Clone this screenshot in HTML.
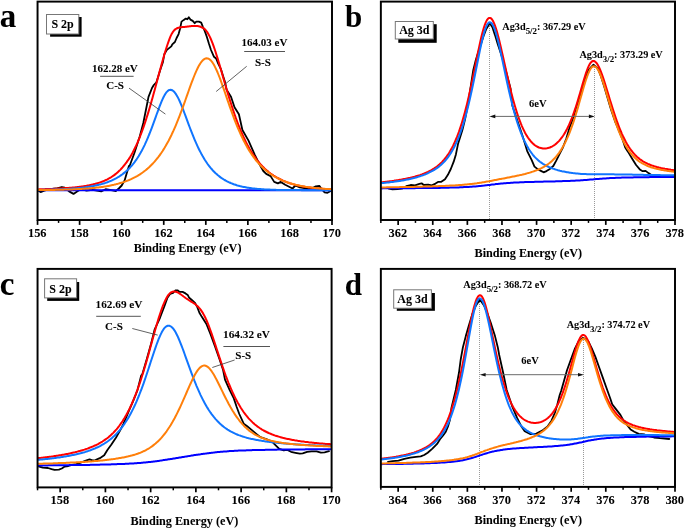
<!DOCTYPE html>
<html><head><meta charset="utf-8"><style>
html,body{margin:0;padding:0;background:#fff;}
svg{display:block;will-change:transform;}
text{stroke:#000;stroke-width:0.05px;}
</style></head><body>
<svg width="685" height="528" viewBox="0 0 685 528" font-family="&quot;Liberation Serif&quot;, serif" font-weight="bold">
<path d="M38.5,190.7 L40.6,192.1 L44.3,190.7 L50.1,189.2 L56.0,188.5 L61.8,187.0 L64.7,187.7 L69.1,191.4 L73.5,193.9 L77.1,191.4 L80.8,189.2 L86.6,190.7 L92.5,189.9 L96.9,190.7 L101.2,191.4 L105.6,189.2 L110.0,189.9 L115.8,191.0 L118.8,188.5 L121.7,185.5 L124.6,180.4 L126.8,173.1 L129.0,165.8 L129.3,166.8 L134.5,152.8 L139.8,136.2 L143.3,123.0 L146.8,105.5 L148.5,96.8 L152.0,88.0 L153.8,85.0 L156.4,82.3 L160.8,68.3 L162.9,62.2 L164.3,54.3 L166.9,49.9 L171.3,46.4 L172.3,44.3 L174.9,42.0 L176.6,38.0 L178.6,34.1 L180.2,28.2 L181.5,21.6 L183.8,19.9 L185.8,18.6 L187.4,19.3 L188.8,17.3 L190.4,19.6 L192.7,20.9 L194.7,23.2 L196.3,21.6 L198.9,21.6 L201.2,22.6 L202.9,26.8 L204.9,31.4 L206.8,36.7 L208.8,43.3 L211.0,50.0 L214.0,56.8 L216.1,58.5 L218.2,63.6 L220.8,68.8 L222.9,75.6 L225.1,82.4 L226.6,89.8 L231.0,96.8 L234.5,107.3 L238.9,114.3 L242.4,130.0 L248.5,140.6 L254.7,154.6 L259.9,165.1 L263.3,171.0 L266.2,173.9 L270.6,176.1 L274.2,181.9 L277.9,183.4 L280.8,181.9 L285.2,184.8 L289.6,187.0 L292.5,188.5 L295.4,185.5 L299.8,187.4 L304.2,188.0 L308.5,188.9 L312.9,187.7 L315.8,186.3 L319.5,186.0 L321.7,189.2 L324.6,192.4 L327.5,192.8 L331.2,190.7" fill="none" stroke="#000" stroke-width="1.8" stroke-linejoin="round" stroke-linecap="round"/>
<path d="M38.5,190.2 L39.5,190.2 L40.5,190.2 L41.5,190.2 L42.5,190.2 L43.5,190.2 L44.5,190.2 L45.5,190.2 L46.5,190.2 L47.5,190.2 L48.5,190.2 L49.5,190.2 L50.5,190.2 L51.5,190.2 L52.5,190.2 L53.5,190.2 L54.5,190.2 L55.5,190.2 L56.5,190.2 L57.5,190.2 L58.5,190.2 L59.5,190.2 L60.5,190.2 L61.5,190.2 L62.5,190.2 L63.5,190.2 L64.5,190.2 L65.5,190.2 L66.5,190.2 L67.5,190.2 L68.5,190.2 L69.5,190.2 L70.5,190.2 L71.5,190.2 L72.5,190.2 L73.5,190.2 L74.5,190.2 L75.5,190.2 L76.5,190.2 L77.5,190.2 L78.5,190.2 L79.5,190.2 L80.5,190.2 L81.5,190.2 L82.5,190.2 L83.5,190.2 L84.5,190.2 L85.5,190.2 L86.5,190.2 L87.5,190.2 L88.5,190.2 L89.5,190.2 L90.5,190.2 L91.5,190.2 L92.5,190.2 L93.5,190.2 L94.5,190.2 L95.5,190.2 L96.5,190.2 L97.5,190.2 L98.5,190.2 L99.5,190.2 L100.5,190.2 L101.5,190.2 L102.5,190.2 L103.5,190.2 L104.5,190.2 L105.5,190.2 L106.5,190.2 L107.5,190.2 L108.5,190.2 L109.5,190.2 L110.5,190.2 L111.5,190.2 L112.5,190.2 L113.5,190.2 L114.5,190.2 L115.5,190.2 L116.5,190.2 L117.5,190.2 L118.5,190.2 L119.5,190.2 L120.5,190.2 L121.5,190.2 L122.5,190.2 L123.5,190.2 L124.5,190.2 L125.5,190.2 L126.5,190.2 L127.5,190.2 L128.6,190.2 L129.6,190.2 L130.6,190.2 L131.6,190.2 L132.6,190.2 L133.6,190.2 L134.6,190.2 L135.6,190.2 L136.6,190.2 L137.6,190.2 L138.6,190.2 L139.6,190.2 L140.6,190.2 L141.6,190.2 L142.6,190.2 L143.6,190.2 L144.6,190.2 L145.6,190.2 L146.6,190.2 L147.6,190.2 L148.6,190.2 L149.6,190.2 L150.6,190.2 L151.6,190.2 L152.6,190.2 L153.6,190.2 L154.6,190.2 L155.6,190.2 L156.6,190.2 L157.6,190.2 L158.6,190.2 L159.6,190.2 L160.6,190.2 L161.6,190.2 L162.6,190.2 L163.6,190.2 L164.6,190.2 L165.6,190.2 L166.6,190.2 L167.6,190.2 L168.6,190.2 L169.6,190.2 L170.6,190.2 L171.6,190.2 L172.6,190.2 L173.6,190.2 L174.6,190.2 L175.6,190.2 L176.6,190.2 L177.6,190.2 L178.6,190.2 L179.6,190.2 L180.6,190.2 L181.6,190.2 L182.6,190.2 L183.6,190.2 L184.6,190.2 L185.6,190.2 L186.6,190.2 L187.6,190.2 L188.6,190.2 L189.6,190.2 L190.6,190.2 L191.6,190.2 L192.6,190.2 L193.6,190.2 L194.6,190.2 L195.6,190.2 L196.6,190.2 L197.6,190.2 L198.6,190.2 L199.6,190.2 L200.6,190.2 L201.6,190.2 L202.6,190.2 L203.6,190.2 L204.6,190.2 L205.6,190.2 L206.6,190.2 L207.6,190.2 L208.6,190.2 L209.6,190.2 L210.6,190.2 L211.6,190.2 L212.6,190.2 L213.6,190.2 L214.6,190.2 L215.6,190.2 L216.6,190.2 L217.6,190.2 L218.6,190.2 L219.6,190.2 L220.6,190.2 L221.6,190.2 L222.6,190.2 L223.6,190.2 L224.6,190.2 L225.6,190.2 L226.6,190.2 L227.6,190.2 L228.6,190.2 L229.6,190.2 L230.6,190.2 L231.6,190.2 L232.6,190.2 L233.6,190.2 L234.6,190.2 L235.6,190.2 L236.6,190.2 L237.6,190.2 L238.6,190.2 L239.6,190.2 L240.6,190.2 L241.6,190.2 L242.6,190.2 L243.6,190.2 L244.6,190.2 L245.6,190.2 L246.6,190.2 L247.6,190.2 L248.6,190.2 L249.6,190.2 L250.6,190.2 L251.6,190.2 L252.6,190.2 L253.6,190.2 L254.6,190.2 L255.6,190.2 L256.6,190.2 L257.6,190.2 L258.6,190.2 L259.6,190.2 L260.6,190.2 L261.6,190.2 L262.6,190.2 L263.6,190.2 L264.6,190.2 L265.6,190.2 L266.6,190.2 L267.6,190.2 L268.6,190.2 L269.6,190.2 L270.6,190.2 L271.6,190.2 L272.6,190.2 L273.6,190.2 L274.6,190.2 L275.6,190.2 L276.6,190.2 L277.6,190.2 L278.6,190.2 L279.6,190.2 L280.6,190.2 L281.6,190.2 L282.6,190.2 L283.6,190.2 L284.6,190.2 L285.6,190.2 L286.6,190.2 L287.6,190.2 L288.6,190.2 L289.6,190.2 L290.6,190.2 L291.6,190.2 L292.6,190.2 L293.6,190.2 L294.6,190.2 L295.6,190.2 L296.6,190.2 L297.6,190.2 L298.6,190.2 L299.6,190.2 L300.6,190.2 L301.6,190.2 L302.6,190.2 L303.6,190.2 L304.6,190.2 L305.6,190.2 L306.6,190.2 L307.6,190.2 L308.6,190.2 L309.6,190.2 L310.6,190.2 L311.6,190.2 L312.6,190.2 L313.6,190.2 L314.6,190.2 L315.6,190.2 L316.6,190.2 L317.6,190.2 L318.6,190.2 L319.6,190.2 L320.6,190.2 L321.6,190.2 L322.6,190.2 L323.6,190.2 L324.6,190.2 L325.6,190.2 L326.6,190.2 L327.6,190.2 L328.6,190.2 L329.6,190.2 L330.6,190.2" fill="none" stroke="#0000ff" stroke-width="2.0" stroke-linejoin="round" stroke-linecap="round"/>
<path d="M38.5,189.4 L39.5,189.3 L40.5,189.3 L41.5,189.3 L42.5,189.3 L43.5,189.2 L44.5,189.2 L45.5,189.1 L46.5,189.1 L47.5,189.1 L48.5,189.0 L49.5,189.0 L50.5,189.0 L51.5,188.9 L52.5,188.9 L53.5,188.8 L54.5,188.8 L55.5,188.7 L56.5,188.7 L57.5,188.6 L58.5,188.6 L59.5,188.5 L60.5,188.5 L61.5,188.4 L62.5,188.3 L63.5,188.3 L64.5,188.2 L65.5,188.1 L66.5,188.1 L67.5,188.0 L68.5,187.9 L69.5,187.8 L70.5,187.7 L71.5,187.7 L72.5,187.6 L73.5,187.5 L74.5,187.4 L75.5,187.3 L76.5,187.2 L77.5,187.0 L78.5,186.9 L79.5,186.8 L80.5,186.7 L81.5,186.5 L82.5,186.4 L83.5,186.2 L84.5,186.1 L85.5,185.9 L86.5,185.8 L87.5,185.6 L88.5,185.4 L89.5,185.2 L90.5,185.0 L91.5,184.8 L92.5,184.6 L93.5,184.3 L94.5,184.1 L95.5,183.8 L96.5,183.5 L97.5,183.2 L98.5,182.9 L99.5,182.6 L100.5,182.3 L101.5,181.9 L102.5,181.5 L103.5,181.1 L104.5,180.7 L105.5,180.2 L106.5,179.8 L107.5,179.3 L108.5,178.7 L109.5,178.2 L110.5,177.6 L111.5,177.0 L112.5,176.3 L113.5,175.6 L114.5,174.9 L115.5,174.1 L116.5,173.3 L117.5,172.4 L118.5,171.5 L119.5,170.6 L120.5,169.6 L121.5,168.5 L122.5,167.4 L123.5,166.2 L124.5,165.0 L125.5,163.7 L126.5,162.4 L127.5,160.9 L128.6,159.4 L129.6,157.9 L130.6,156.2 L131.6,154.5 L132.6,152.7 L133.6,150.8 L134.6,148.8 L135.6,146.8 L136.6,144.6 L137.6,142.4 L138.6,140.0 L139.6,137.6 L140.6,135.0 L141.6,132.4 L142.6,129.7 L143.6,126.9 L144.6,124.0 L145.6,120.9 L146.6,117.8 L147.6,114.6 L148.6,111.4 L149.6,108.0 L150.6,104.6 L151.6,101.0 L152.6,97.5 L153.6,93.8 L154.6,90.2 L155.6,86.5 L156.6,82.7 L157.6,79.0 L158.6,75.3 L159.6,71.5 L160.6,67.9 L161.6,64.2 L162.6,60.7 L163.6,57.2 L164.6,53.8 L165.6,50.5 L166.6,47.3 L167.6,44.2 L168.6,41.3 L169.6,38.6 L170.6,36.1 L171.6,34.1 L172.6,32.4 L173.6,31.0 L174.6,29.9 L175.6,29.1 L176.6,28.5 L177.6,28.0 L178.6,27.7 L179.6,27.5 L180.6,27.3 L181.6,27.2 L182.6,27.1 L183.6,27.0 L184.6,26.9 L185.6,26.8 L186.6,26.7 L187.6,26.5 L188.6,26.4 L189.6,26.3 L190.6,26.2 L191.6,26.1 L192.6,26.0 L193.6,25.9 L194.6,25.9 L195.6,25.9 L196.6,26.0 L197.6,26.1 L198.6,26.3 L199.6,26.5 L200.6,26.8 L201.6,27.3 L202.6,27.7 L203.6,28.3 L204.6,29.1 L205.6,30.0 L206.6,31.3 L207.6,32.7 L208.6,34.5 L209.6,36.4 L210.6,38.5 L211.6,40.9 L212.6,43.4 L213.6,46.2 L214.6,49.0 L215.6,52.0 L216.6,55.2 L217.6,58.4 L218.6,61.7 L219.6,65.1 L220.6,68.5 L221.6,71.9 L222.6,75.4 L223.6,78.9 L224.6,82.4 L225.6,85.8 L226.6,89.2 L227.6,92.6 L228.6,95.9 L229.6,99.2 L230.6,102.4 L231.6,105.5 L232.6,108.6 L233.6,111.6 L234.6,114.5 L235.6,117.4 L236.6,120.1 L237.6,122.8 L238.6,125.4 L239.6,127.9 L240.6,130.4 L241.6,132.7 L242.6,135.0 L243.6,137.2 L244.6,139.3 L245.6,141.4 L246.6,143.4 L247.6,145.3 L248.6,147.1 L249.6,148.9 L250.6,150.6 L251.6,152.2 L252.6,153.8 L253.6,155.3 L254.6,156.7 L255.6,158.1 L256.6,159.5 L257.6,160.8 L258.6,162.0 L259.6,163.2 L260.6,164.3 L261.6,165.4 L262.6,166.5 L263.6,167.5 L264.6,168.5 L265.6,169.4 L266.6,170.3 L267.6,171.1 L268.6,172.0 L269.6,172.7 L270.6,173.5 L271.6,174.2 L272.6,174.9 L273.6,175.6 L274.6,176.2 L275.6,176.8 L276.6,177.4 L277.6,178.0 L278.6,178.5 L279.6,179.0 L280.6,179.5 L281.6,180.0 L282.6,180.5 L283.6,180.9 L284.6,181.3 L285.6,181.7 L286.6,182.1 L287.6,182.5 L288.6,182.8 L289.6,183.2 L290.6,183.5 L291.6,183.8 L292.6,184.1 L293.6,184.4 L294.6,184.6 L295.6,184.9 L296.6,185.1 L297.6,185.4 L298.6,185.6 L299.6,185.8 L300.6,186.0 L301.6,186.2 L302.6,186.4 L303.6,186.6 L304.6,186.8 L305.6,186.9 L306.6,187.1 L307.6,187.2 L308.6,187.4 L309.6,187.5 L310.6,187.6 L311.6,187.8 L312.6,187.9 L313.6,188.0 L314.6,188.1 L315.6,188.2 L316.6,188.3 L317.6,188.4 L318.6,188.5 L319.6,188.6 L320.6,188.7 L321.6,188.7 L322.6,188.8 L323.6,188.9 L324.6,189.0 L325.6,189.0 L326.6,189.1 L327.6,189.1 L328.6,189.2 L329.6,189.2 L330.6,189.3" fill="none" stroke="#ff0000" stroke-width="2.0" stroke-linejoin="round" stroke-linecap="round"/>
<path d="M38.5,189.9 L39.5,189.9 L40.5,189.9 L41.5,189.9 L42.5,189.8 L43.5,189.8 L44.5,189.8 L45.5,189.8 L46.5,189.8 L47.5,189.7 L48.5,189.7 L49.5,189.7 L50.5,189.7 L51.5,189.6 L52.5,189.6 L53.5,189.6 L54.5,189.5 L55.5,189.5 L56.5,189.5 L57.5,189.4 L58.5,189.4 L59.5,189.4 L60.5,189.3 L61.5,189.3 L62.5,189.2 L63.5,189.2 L64.5,189.1 L65.5,189.1 L66.5,189.0 L67.5,188.9 L68.5,188.9 L69.5,188.8 L70.5,188.8 L71.5,188.7 L72.5,188.6 L73.5,188.5 L74.5,188.5 L75.5,188.4 L76.5,188.3 L77.5,188.2 L78.5,188.1 L79.5,188.0 L80.5,187.9 L81.5,187.8 L82.5,187.7 L83.5,187.5 L84.5,187.4 L85.5,187.3 L86.5,187.1 L87.5,187.0 L88.5,186.8 L89.5,186.7 L90.5,186.5 L91.5,186.3 L92.5,186.2 L93.5,186.0 L94.5,185.8 L95.5,185.6 L96.5,185.3 L97.5,185.1 L98.5,184.9 L99.5,184.6 L100.5,184.4 L101.5,184.1 L102.5,183.8 L103.5,183.5 L104.5,183.2 L105.5,182.9 L106.5,182.5 L107.5,182.2 L108.5,181.8 L109.5,181.4 L110.5,181.0 L111.5,180.6 L112.5,180.1 L113.5,179.6 L114.5,179.1 L115.5,178.6 L116.5,178.1 L117.5,177.5 L118.5,176.9 L119.5,176.3 L120.5,175.6 L121.5,174.9 L122.5,174.2 L123.5,173.4 L124.5,172.6 L125.5,171.8 L126.5,170.9 L127.5,170.0 L128.6,169.0 L129.6,168.0 L130.6,166.9 L131.6,165.8 L132.6,164.6 L133.6,163.4 L134.6,162.1 L135.6,160.7 L136.6,159.3 L137.6,157.8 L138.6,156.2 L139.6,154.5 L140.6,152.8 L141.6,151.0 L142.6,149.1 L143.6,147.1 L144.6,145.1 L145.6,142.9 L146.6,140.7 L147.6,138.3 L148.6,135.9 L149.6,133.5 L150.6,130.9 L151.6,128.3 L152.6,125.6 L153.6,122.9 L154.6,120.1 L155.6,117.3 L156.6,114.5 L157.6,111.8 L158.6,109.1 L159.6,106.4 L160.6,103.8 L161.6,101.4 L162.6,99.1 L163.6,97.0 L164.6,95.1 L165.6,93.5 L166.6,92.1 L167.6,91.1 L168.6,90.3 L169.6,89.9 L170.6,89.8 L171.6,90.0 L172.6,90.5 L173.6,91.3 L174.6,92.3 L175.6,93.6 L176.6,95.2 L177.6,96.9 L178.6,98.9 L179.6,101.0 L180.6,103.3 L181.6,105.7 L182.6,108.2 L183.6,110.8 L184.6,113.5 L185.6,116.2 L186.6,118.9 L187.6,121.6 L188.6,124.3 L189.6,127.0 L190.6,129.6 L191.6,132.2 L192.6,134.7 L193.6,137.2 L194.6,139.6 L195.6,141.9 L196.6,144.2 L197.6,146.4 L198.6,148.5 L199.6,150.5 L200.6,152.4 L201.6,154.3 L202.6,156.1 L203.6,157.8 L204.6,159.5 L205.6,161.0 L206.6,162.5 L207.6,164.0 L208.6,165.3 L209.6,166.6 L210.6,167.9 L211.6,169.0 L212.6,170.2 L213.6,171.2 L214.6,172.2 L215.6,173.2 L216.6,174.1 L217.6,175.0 L218.6,175.8 L219.6,176.6 L220.6,177.4 L221.6,178.1 L222.6,178.7 L223.6,179.4 L224.6,180.0 L225.6,180.5 L226.6,181.1 L227.6,181.6 L228.6,182.1 L229.6,182.5 L230.6,183.0 L231.6,183.4 L232.6,183.8 L233.6,184.2 L234.6,184.5 L235.6,184.8 L236.6,185.2 L237.6,185.5 L238.6,185.7 L239.6,186.0 L240.6,186.2 L241.6,186.5 L242.6,186.7 L243.6,186.9 L244.6,187.1 L245.6,187.3 L246.6,187.5 L247.6,187.7 L248.6,187.8 L249.6,188.0 L250.6,188.1 L251.6,188.2 L252.6,188.4 L253.6,188.5 L254.6,188.6 L255.6,188.7 L256.6,188.8 L257.6,188.9 L258.6,189.0 L259.6,189.0 L260.6,189.1 L261.6,189.2 L262.6,189.3 L263.6,189.3 L264.6,189.4 L265.6,189.4 L266.6,189.5 L267.6,189.5 L268.6,189.6 L269.6,189.6 L270.6,189.7 L271.6,189.7 L272.6,189.7 L273.6,189.8 L274.6,189.8 L275.6,189.8 L276.6,189.9 L277.6,189.9 L278.6,189.9 L279.6,189.9 L280.6,189.9 L281.6,190.0 L282.6,190.0 L283.6,190.0 L284.6,190.0 L285.6,190.0 L286.6,190.0 L287.6,190.0 L288.6,190.1 L289.6,190.1 L290.6,190.1 L291.6,190.1 L292.6,190.1 L293.6,190.1 L294.6,190.1 L295.6,190.1 L296.6,190.1 L297.6,190.1 L298.6,190.1 L299.6,190.1 L300.6,190.1 L301.6,190.2 L302.6,190.2 L303.6,190.2 L304.6,190.2 L305.6,190.2 L306.6,190.2 L307.6,190.2 L308.6,190.2 L309.6,190.2 L310.6,190.2 L311.6,190.2 L312.6,190.2 L313.6,190.2 L314.6,190.2 L315.6,190.2 L316.6,190.2 L317.6,190.2 L318.6,190.2 L319.6,190.2 L320.6,190.2 L321.6,190.2 L322.6,190.2 L323.6,190.2 L324.6,190.2 L325.6,190.2 L326.6,190.2 L327.6,190.2 L328.6,190.2 L329.6,190.2 L330.6,190.2" fill="none" stroke="#1075ff" stroke-width="2.0" stroke-linejoin="round" stroke-linecap="round"/>
<path d="M38.5,190.1 L39.5,190.0 L40.5,190.0 L41.5,190.0 L42.5,190.0 L43.5,190.0 L44.5,190.0 L45.5,190.0 L46.5,190.0 L47.5,190.0 L48.5,189.9 L49.5,189.9 L50.5,189.9 L51.5,189.9 L52.5,189.9 L53.5,189.9 L54.5,189.9 L55.5,189.8 L56.5,189.8 L57.5,189.8 L58.5,189.8 L59.5,189.8 L60.5,189.7 L61.5,189.7 L62.5,189.7 L63.5,189.7 L64.5,189.6 L65.5,189.6 L66.5,189.6 L67.5,189.5 L68.5,189.5 L69.5,189.5 L70.5,189.4 L71.5,189.4 L72.5,189.4 L73.5,189.3 L74.5,189.3 L75.5,189.2 L76.5,189.2 L77.5,189.1 L78.5,189.1 L79.5,189.0 L80.5,189.0 L81.5,188.9 L82.5,188.8 L83.5,188.8 L84.5,188.7 L85.5,188.6 L86.5,188.6 L87.5,188.5 L88.5,188.4 L89.5,188.3 L90.5,188.2 L91.5,188.2 L92.5,188.1 L93.5,188.0 L94.5,187.9 L95.5,187.8 L96.5,187.6 L97.5,187.5 L98.5,187.4 L99.5,187.3 L100.5,187.2 L101.5,187.0 L102.5,186.9 L103.5,186.7 L104.5,186.6 L105.5,186.4 L106.5,186.2 L107.5,186.1 L108.5,185.9 L109.5,185.7 L110.5,185.5 L111.5,185.3 L112.5,185.1 L113.5,184.9 L114.5,184.6 L115.5,184.4 L116.5,184.1 L117.5,183.9 L118.5,183.6 L119.5,183.3 L120.5,183.0 L121.5,182.7 L122.5,182.4 L123.5,182.1 L124.5,181.7 L125.5,181.4 L126.5,181.0 L127.5,180.6 L128.6,180.2 L129.6,179.8 L130.6,179.4 L131.6,178.9 L132.6,178.4 L133.6,177.9 L134.6,177.4 L135.6,176.9 L136.6,176.3 L137.6,175.8 L138.6,175.2 L139.6,174.6 L140.6,173.9 L141.6,173.2 L142.6,172.5 L143.6,171.8 L144.6,171.0 L145.6,170.3 L146.6,169.4 L147.6,168.6 L148.6,167.7 L149.6,166.8 L150.6,165.8 L151.6,164.8 L152.6,163.8 L153.6,162.7 L154.6,161.6 L155.6,160.4 L156.6,159.2 L157.6,158.0 L158.6,156.7 L159.6,155.3 L160.6,153.9 L161.6,152.5 L162.6,151.0 L163.6,149.4 L164.6,147.8 L165.6,146.1 L166.6,144.3 L167.6,142.5 L168.6,140.7 L169.6,138.7 L170.6,136.7 L171.6,134.7 L172.6,132.5 L173.6,130.4 L174.6,128.1 L175.6,125.8 L176.6,123.4 L177.6,120.9 L178.6,118.4 L179.6,115.8 L180.6,113.2 L181.6,110.5 L182.6,107.8 L183.6,105.1 L184.6,102.3 L185.6,99.5 L186.6,96.7 L187.6,93.8 L188.6,91.0 L189.6,88.2 L190.6,85.4 L191.6,82.7 L192.6,80.1 L193.6,77.5 L194.6,75.0 L195.6,72.6 L196.6,70.4 L197.6,68.3 L198.6,66.3 L199.6,64.6 L200.6,63.0 L201.6,61.6 L202.6,60.5 L203.6,59.6 L204.6,58.9 L205.6,58.5 L206.6,58.3 L207.6,58.4 L208.6,58.7 L209.6,59.4 L210.6,60.2 L211.6,61.4 L212.6,62.7 L213.6,64.3 L214.6,66.1 L215.6,68.1 L216.6,70.2 L217.6,72.5 L218.6,75.0 L219.6,77.5 L220.6,80.2 L221.6,83.0 L222.6,85.8 L223.6,88.6 L224.6,91.5 L225.6,94.5 L226.6,97.4 L227.6,100.3 L228.6,103.2 L229.6,106.1 L230.6,108.9 L231.6,111.7 L232.6,114.4 L233.6,117.1 L234.6,119.8 L235.6,122.3 L236.6,124.8 L237.6,127.3 L238.6,129.6 L239.6,131.9 L240.6,134.2 L241.6,136.3 L242.6,138.4 L243.6,140.5 L244.6,142.4 L245.6,144.3 L246.6,146.1 L247.6,147.9 L248.6,149.6 L249.6,151.2 L250.6,152.8 L251.6,154.3 L252.6,155.7 L253.6,157.1 L254.6,158.5 L255.6,159.8 L256.6,161.0 L257.6,162.2 L258.6,163.3 L259.6,164.4 L260.6,165.5 L261.6,166.5 L262.6,167.5 L263.6,168.4 L264.6,169.3 L265.6,170.2 L266.6,171.0 L267.6,171.8 L268.6,172.6 L269.6,173.3 L270.6,174.0 L271.6,174.7 L272.6,175.3 L273.6,176.0 L274.6,176.6 L275.6,177.1 L276.6,177.7 L277.6,178.2 L278.6,178.7 L279.6,179.2 L280.6,179.7 L281.6,180.1 L282.6,180.6 L283.6,181.0 L284.6,181.4 L285.6,181.7 L286.6,182.1 L287.6,182.5 L288.6,182.8 L289.6,183.1 L290.6,183.4 L291.6,183.7 L292.6,184.0 L293.6,184.3 L294.6,184.5 L295.6,184.8 L296.6,185.0 L297.6,185.2 L298.6,185.5 L299.6,185.7 L300.6,185.9 L301.6,186.1 L302.6,186.3 L303.6,186.4 L304.6,186.6 L305.6,186.8 L306.6,186.9 L307.6,187.1 L308.6,187.2 L309.6,187.3 L310.6,187.5 L311.6,187.6 L312.6,187.7 L313.6,187.8 L314.6,187.9 L315.6,188.1 L316.6,188.2 L317.6,188.2 L318.6,188.3 L319.6,188.4 L320.6,188.5 L321.6,188.6 L322.6,188.7 L323.6,188.7 L324.6,188.8 L325.6,188.9 L326.6,188.9 L327.6,189.0 L328.6,189.1 L329.6,189.1 L330.6,189.2" fill="none" stroke="#ff7f0a" stroke-width="2.0" stroke-linejoin="round" stroke-linecap="round"/>
<line x1="129" y1="88.1" x2="165.4" y2="114.1" stroke="#3a3a3a" stroke-width="0.8"/>
<line x1="246.7" y1="66.3" x2="216.2" y2="91.5" stroke="#3a3a3a" stroke-width="0.8"/>
<rect x="37.55" y="1.6" width="294.45" height="218.40" fill="none" stroke="#000" stroke-width="1.95"/>
<line x1="37.55" y1="220.0" x2="37.55" y2="224.90" stroke="#000" stroke-width="1.7"/>
<line x1="79.61" y1="220.0" x2="79.61" y2="224.90" stroke="#000" stroke-width="1.7"/>
<line x1="121.68" y1="220.0" x2="121.68" y2="224.90" stroke="#000" stroke-width="1.7"/>
<line x1="163.74" y1="220.0" x2="163.74" y2="224.90" stroke="#000" stroke-width="1.7"/>
<line x1="205.81" y1="220.0" x2="205.81" y2="224.90" stroke="#000" stroke-width="1.7"/>
<line x1="247.87" y1="220.0" x2="247.87" y2="224.90" stroke="#000" stroke-width="1.7"/>
<line x1="289.94" y1="220.0" x2="289.94" y2="224.90" stroke="#000" stroke-width="1.7"/>
<line x1="332.00" y1="220.0" x2="332.00" y2="224.90" stroke="#000" stroke-width="1.7"/>
<line x1="58.58" y1="220.0" x2="58.58" y2="222.90" stroke="#000" stroke-width="1.5"/>
<line x1="100.65" y1="220.0" x2="100.65" y2="222.90" stroke="#000" stroke-width="1.5"/>
<line x1="142.71" y1="220.0" x2="142.71" y2="222.90" stroke="#000" stroke-width="1.5"/>
<line x1="184.77" y1="220.0" x2="184.77" y2="222.90" stroke="#000" stroke-width="1.5"/>
<line x1="226.84" y1="220.0" x2="226.84" y2="222.90" stroke="#000" stroke-width="1.5"/>
<line x1="268.90" y1="220.0" x2="268.90" y2="222.90" stroke="#000" stroke-width="1.5"/>
<line x1="310.97" y1="220.0" x2="310.97" y2="222.90" stroke="#000" stroke-width="1.5"/>
<text x="37.25" y="237.00" font-size="12.4" text-anchor="middle">156</text>
<text x="79.31" y="237.00" font-size="12.4" text-anchor="middle">158</text>
<text x="121.38" y="237.00" font-size="12.4" text-anchor="middle">160</text>
<text x="163.44" y="237.00" font-size="12.4" text-anchor="middle">162</text>
<text x="205.51" y="237.00" font-size="12.4" text-anchor="middle">164</text>
<text x="247.57" y="237.00" font-size="12.4" text-anchor="middle">166</text>
<text x="289.64" y="237.00" font-size="12.4" text-anchor="middle">168</text>
<text x="331.70" y="237.00" font-size="12.4" text-anchor="middle">170</text>
<line x1="489.5" y1="24" x2="489.5" y2="219" stroke="#999" stroke-width="1" stroke-dasharray="1,1"/>
<line x1="594.5" y1="65" x2="594.5" y2="219" stroke="#999" stroke-width="1" stroke-dasharray="1,1"/>
<path d="M388.8,188.7 L392.4,189.4 L397.5,189.1 L401.9,188.7 L406.3,186.2 L410.7,185.0 L415.0,185.3 L419.4,183.9 L421.6,183.3 L423.8,185.0 L428.2,184.7 L431.8,185.3 L435.5,183.6 L438.4,181.8 L441.3,181.8 L445.0,179.2 L447.9,174.8 L450.8,169.0 L453.7,161.7 L455.9,154.4 L458.0,144.1 L462.4,130.0 L465.0,119.5 L467.7,105.5 L469.4,95.0 L473.3,70.0 L475.8,60.0 L478.4,51.8 L481.0,43.9 L483.6,36.0 L486.3,29.0 L489.8,23.3 L492.4,27.3 L495.0,35.1 L497.7,43.9 L500.3,51.8 L502.9,60.0 L503.6,62.6 L507.0,75.0 L510.6,88.8 L512.3,105.5 L517.6,121.3 L522.9,137.0 L527.2,151.1 L531.6,159.8 L534.5,166.6 L538.0,169.4 L541.4,171.1 L543.6,172.3 L546.5,171.1 L549.9,168.9 L553.3,166.0 L556.1,160.9 L559.5,154.1 L563.0,147.3 L566.4,138.2 L569.8,126.8 L572.6,120.0 L576.0,108.0 L579.7,97.0 L582.5,87.5 L585.5,77.5 L588.6,69.9 L593.5,64.6 L597.8,68.1 L601.0,76.5 L604.2,86.5 L607.0,96.0 L611.0,109.5 L615.3,122.0 L619.3,131.5 L622.3,138.8 L625.2,147.5 L628.1,151.9 L632.5,159.2 L636.1,165.0 L639.8,169.4 L642.7,171.2 L645.6,170.9 L648.5,173.1 L650.7,174.5" fill="none" stroke="#000" stroke-width="1.8" stroke-linejoin="round" stroke-linecap="round"/>
<path d="M381.9,188.4 L382.9,188.3 L383.9,188.3 L384.9,188.3 L385.9,188.3 L386.9,188.3 L387.9,188.3 L388.9,188.3 L389.9,188.3 L390.9,188.3 L391.9,188.3 L392.9,188.3 L393.9,188.3 L394.9,188.3 L395.9,188.3 L396.9,188.3 L397.9,188.3 L398.9,188.3 L399.9,188.3 L400.9,188.3 L401.9,188.2 L402.9,188.2 L403.9,188.2 L404.9,188.2 L405.9,188.2 L406.9,188.2 L407.9,188.2 L408.9,188.2 L409.9,188.2 L410.9,188.2 L411.9,188.2 L412.9,188.2 L413.9,188.2 L414.9,188.2 L415.9,188.1 L416.9,188.1 L417.9,188.1 L418.9,188.1 L419.9,188.1 L420.9,188.1 L421.9,188.1 L422.9,188.1 L423.9,188.1 L424.9,188.1 L425.9,188.0 L426.9,188.0 L427.9,188.0 L428.9,188.0 L429.9,188.0 L430.9,188.0 L431.9,188.0 L432.9,188.0 L433.9,187.9 L434.9,187.9 L435.9,187.9 L436.9,187.9 L437.9,187.9 L438.9,187.9 L439.9,187.9 L440.9,187.8 L441.9,187.8 L442.9,187.8 L443.9,187.8 L444.9,187.8 L445.9,187.7 L446.9,187.7 L447.9,187.7 L448.9,187.7 L449.9,187.6 L450.9,187.6 L451.9,187.6 L452.9,187.6 L453.9,187.5 L454.9,187.5 L455.9,187.5 L456.9,187.4 L457.9,187.4 L458.9,187.4 L459.9,187.3 L460.9,187.3 L461.9,187.2 L462.9,187.2 L463.9,187.1 L464.9,187.1 L465.9,187.0 L466.9,187.0 L467.9,186.9 L468.9,186.9 L469.9,186.8 L470.9,186.7 L471.9,186.7 L472.9,186.6 L473.9,186.5 L474.9,186.4 L475.9,186.4 L476.9,186.3 L477.9,186.2 L478.9,186.1 L479.9,186.0 L480.9,185.9 L481.9,185.8 L482.9,185.7 L483.9,185.6 L484.9,185.4 L485.9,185.3 L486.9,185.2 L487.9,185.1 L488.9,185.0 L489.9,184.9 L490.9,184.7 L491.9,184.6 L492.9,184.5 L493.9,184.4 L494.9,184.3 L495.9,184.1 L496.9,184.0 L497.9,183.9 L498.9,183.8 L499.9,183.7 L500.9,183.6 L501.9,183.5 L502.9,183.4 L503.9,183.3 L504.9,183.3 L505.9,183.2 L506.9,183.1 L507.9,183.0 L508.9,183.0 L509.9,182.9 L510.9,182.8 L511.9,182.8 L512.9,182.7 L513.9,182.6 L514.9,182.6 L515.9,182.5 L516.9,182.5 L517.9,182.4 L518.9,182.4 L519.9,182.3 L520.9,182.3 L521.9,182.3 L522.9,182.2 L523.9,182.2 L524.9,182.1 L525.9,182.1 L526.9,182.1 L527.9,182.0 L528.9,182.0 L529.9,182.0 L530.9,182.0 L531.9,181.9 L532.9,181.9 L533.9,181.9 L534.9,181.8 L535.9,181.8 L536.9,181.8 L537.9,181.8 L538.9,181.8 L539.9,181.7 L540.9,181.7 L541.9,181.7 L542.9,181.7 L543.9,181.6 L544.9,181.6 L545.9,181.6 L546.9,181.6 L547.9,181.5 L548.9,181.5 L549.9,181.5 L550.9,181.5 L551.9,181.4 L552.9,181.4 L553.9,181.4 L554.9,181.4 L555.9,181.3 L556.9,181.3 L557.9,181.3 L558.9,181.3 L559.9,181.2 L560.9,181.2 L561.9,181.2 L562.9,181.1 L563.9,181.1 L564.9,181.1 L565.9,181.0 L566.9,181.0 L567.9,181.0 L568.9,180.9 L569.9,180.9 L570.9,180.8 L571.9,180.8 L572.9,180.8 L573.9,180.7 L574.9,180.7 L575.9,180.6 L576.9,180.6 L577.9,180.5 L578.9,180.4 L579.9,180.4 L580.9,180.3 L581.9,180.2 L582.9,180.2 L583.9,180.1 L584.9,180.0 L585.9,180.0 L586.9,179.9 L587.9,179.8 L588.9,179.7 L589.9,179.6 L590.9,179.6 L591.9,179.5 L592.9,179.4 L593.9,179.3 L594.9,179.2 L595.9,179.1 L596.9,179.1 L597.9,179.0 L598.9,178.9 L599.9,178.8 L600.9,178.7 L601.9,178.7 L602.9,178.6 L603.9,178.5 L604.9,178.4 L605.9,178.4 L606.9,178.3 L607.9,178.2 L608.9,178.2 L609.9,178.1 L610.9,178.1 L611.9,178.0 L612.9,178.0 L613.9,177.9 L614.9,177.9 L615.9,177.8 L616.9,177.8 L617.9,177.8 L618.9,177.7 L619.9,177.7 L620.9,177.7 L621.9,177.6 L622.9,177.6 L623.9,177.6 L624.9,177.5 L625.9,177.5 L626.9,177.5 L627.9,177.5 L628.9,177.4 L629.9,177.4 L630.9,177.4 L631.9,177.4 L632.9,177.4 L633.9,177.3 L634.9,177.3 L635.9,177.3 L636.9,177.3 L637.9,177.3 L638.9,177.3 L639.9,177.3 L640.9,177.2 L641.9,177.2 L642.9,177.2 L643.9,177.2 L644.9,177.2 L645.9,177.2 L646.9,177.2 L647.9,177.2 L648.9,177.2 L649.9,177.1 L650.9,177.1 L651.9,177.1 L652.9,177.1 L653.9,177.1 L654.9,177.1 L655.9,177.1 L656.9,177.1 L657.9,177.1 L658.9,177.1 L659.9,177.1 L660.9,177.1 L661.9,177.1 L662.9,177.1 L663.9,177.0 L664.9,177.0 L665.9,177.0 L666.9,177.0 L667.9,177.0 L668.9,177.0 L669.9,177.0 L670.9,177.0 L671.9,177.0 L672.9,177.0 L673.9,177.0" fill="none" stroke="#0000ff" stroke-width="2.0" stroke-linejoin="round" stroke-linecap="round"/>
<path d="M381.9,182.3 L382.9,182.2 L383.9,182.0 L384.9,181.9 L385.9,181.8 L386.9,181.7 L387.9,181.6 L388.9,181.5 L389.9,181.3 L390.9,181.2 L391.9,181.1 L392.9,180.9 L393.9,180.8 L394.9,180.6 L395.9,180.5 L396.9,180.3 L397.9,180.2 L398.9,180.0 L399.9,179.8 L400.9,179.7 L401.9,179.5 L402.9,179.3 L403.9,179.1 L404.9,178.9 L405.9,178.7 L406.9,178.5 L407.9,178.3 L408.9,178.1 L409.9,177.9 L410.9,177.6 L411.9,177.4 L412.9,177.1 L413.9,176.9 L414.9,176.6 L415.9,176.3 L416.9,176.0 L417.9,175.7 L418.9,175.4 L419.9,175.1 L420.9,174.7 L421.9,174.4 L422.9,174.0 L423.9,173.6 L424.9,173.2 L425.9,172.8 L426.9,172.3 L427.9,171.9 L428.9,171.4 L429.9,170.9 L430.9,170.4 L431.9,169.8 L432.9,169.2 L433.9,168.6 L434.9,167.9 L435.9,167.2 L436.9,166.5 L437.9,165.7 L438.9,164.9 L439.9,164.0 L440.9,163.1 L441.9,162.1 L442.9,161.0 L443.9,159.9 L444.9,158.7 L445.9,157.5 L446.9,156.1 L447.9,154.7 L448.9,153.2 L449.9,151.6 L450.9,149.8 L451.9,148.0 L452.9,146.1 L453.9,144.0 L454.9,141.8 L455.9,139.5 L456.9,137.1 L457.9,134.5 L458.9,131.8 L459.9,128.9 L460.9,125.9 L461.9,122.7 L462.9,119.3 L463.9,115.8 L464.9,112.2 L465.9,108.3 L466.9,104.4 L467.9,100.2 L468.9,95.9 L469.9,91.5 L470.9,86.9 L471.9,82.2 L472.9,77.4 L473.9,72.5 L474.9,67.6 L475.9,62.7 L476.9,57.7 L477.9,52.8 L478.9,48.1 L479.9,43.4 L480.9,39.0 L481.9,34.8 L482.9,31.0 L483.9,27.6 L484.9,24.6 L485.9,22.1 L486.9,20.1 L487.9,18.8 L488.9,18.0 L489.9,17.9 L490.9,18.3 L491.9,19.3 L492.9,20.8 L493.9,22.9 L494.9,25.4 L495.9,28.3 L496.9,31.6 L497.9,35.2 L498.9,39.1 L499.9,43.2 L500.9,47.5 L501.9,51.9 L502.9,56.3 L503.9,60.8 L504.9,65.3 L505.9,69.8 L506.9,74.3 L507.9,78.6 L508.9,82.9 L509.9,87.1 L510.9,91.2 L511.9,95.1 L512.9,98.9 L513.9,102.5 L514.9,106.0 L515.9,109.3 L516.9,112.5 L517.9,115.5 L518.9,118.4 L519.9,121.1 L520.9,123.7 L521.9,126.1 L522.9,128.3 L523.9,130.4 L524.9,132.4 L525.9,134.2 L526.9,135.9 L527.9,137.5 L528.9,138.9 L529.9,140.2 L530.9,141.5 L531.9,142.5 L532.9,143.5 L533.9,144.4 L534.9,145.2 L535.9,145.9 L536.9,146.5 L537.9,147.0 L538.9,147.5 L539.9,147.8 L540.9,148.1 L541.9,148.3 L542.9,148.5 L543.9,148.5 L544.9,148.5 L545.9,148.4 L546.9,148.3 L547.9,148.1 L548.9,147.8 L549.9,147.5 L550.9,147.0 L551.9,146.6 L552.9,146.0 L553.9,145.4 L554.9,144.7 L555.9,143.9 L556.9,143.0 L557.9,142.1 L558.9,141.1 L559.9,140.0 L560.9,138.7 L561.9,137.4 L562.9,136.0 L563.9,134.5 L564.9,132.9 L565.9,131.1 L566.9,129.3 L567.9,127.3 L568.9,125.2 L569.9,122.9 L570.9,120.5 L571.9,118.0 L572.9,115.4 L573.9,112.6 L574.9,109.7 L575.9,106.7 L576.9,103.5 L577.9,100.2 L578.9,96.9 L579.9,93.5 L580.9,90.0 L581.9,86.5 L582.9,83.1 L583.9,79.7 L584.9,76.5 L585.9,73.4 L586.9,70.5 L587.9,67.9 L588.9,65.7 L589.9,63.8 L590.9,62.4 L591.9,61.5 L592.9,61.0 L593.9,61.0 L594.9,61.5 L595.9,62.3 L596.9,63.5 L597.9,65.1 L598.9,67.0 L599.9,69.2 L600.9,71.6 L601.9,74.3 L602.9,77.1 L603.9,80.1 L604.9,83.3 L605.9,86.5 L606.9,89.7 L607.9,93.0 L608.9,96.4 L609.9,99.7 L610.9,102.9 L611.9,106.1 L612.9,109.3 L613.9,112.4 L614.9,115.4 L615.9,118.3 L616.9,121.2 L617.9,123.9 L618.9,126.5 L619.9,129.0 L620.9,131.4 L621.9,133.8 L622.9,136.0 L623.9,138.0 L624.9,140.0 L625.9,141.9 L626.9,143.7 L627.9,145.4 L628.9,147.0 L629.9,148.5 L630.9,149.9 L631.9,151.2 L632.9,152.5 L633.9,153.6 L634.9,154.7 L635.9,155.7 L636.9,156.7 L637.9,157.6 L638.9,158.4 L639.9,159.2 L640.9,159.9 L641.9,160.6 L642.9,161.3 L643.9,161.8 L644.9,162.4 L645.9,162.9 L646.9,163.4 L647.9,163.9 L648.9,164.3 L649.9,164.7 L650.9,165.1 L651.9,165.5 L652.9,165.8 L653.9,166.1 L654.9,166.4 L655.9,166.7 L656.9,167.0 L657.9,167.2 L658.9,167.5 L659.9,167.7 L660.9,168.0 L661.9,168.2 L662.9,168.4 L663.9,168.6 L664.9,168.8 L665.9,168.9 L666.9,169.1 L667.9,169.3 L668.9,169.5 L669.9,169.6 L670.9,169.8 L671.9,169.9 L672.9,170.0 L673.9,170.2" fill="none" stroke="#ff0000" stroke-width="2.0" stroke-linejoin="round" stroke-linecap="round"/>
<path d="M381.9,183.1 L382.9,183.0 L383.9,182.9 L384.9,182.8 L385.9,182.7 L386.9,182.6 L387.9,182.5 L388.9,182.4 L389.9,182.3 L390.9,182.1 L391.9,182.0 L392.9,181.9 L393.9,181.8 L394.9,181.6 L395.9,181.5 L396.9,181.3 L397.9,181.2 L398.9,181.0 L399.9,180.9 L400.9,180.7 L401.9,180.5 L402.9,180.4 L403.9,180.2 L404.9,180.0 L405.9,179.8 L406.9,179.6 L407.9,179.4 L408.9,179.2 L409.9,179.0 L410.9,178.7 L411.9,178.5 L412.9,178.2 L413.9,178.0 L414.9,177.7 L415.9,177.5 L416.9,177.2 L417.9,176.9 L418.9,176.6 L419.9,176.3 L420.9,175.9 L421.9,175.6 L422.9,175.2 L423.9,174.9 L424.9,174.5 L425.9,174.1 L426.9,173.6 L427.9,173.2 L428.9,172.7 L429.9,172.2 L430.9,171.7 L431.9,171.2 L432.9,170.6 L433.9,170.1 L434.9,169.4 L435.9,168.8 L436.9,168.1 L437.9,167.4 L438.9,166.6 L439.9,165.8 L440.9,164.9 L441.9,164.0 L442.9,163.1 L443.9,162.1 L444.9,161.0 L445.9,159.8 L446.9,158.6 L447.9,157.3 L448.9,155.9 L449.9,154.5 L450.9,152.9 L451.9,151.3 L452.9,149.6 L453.9,147.7 L454.9,145.7 L455.9,143.6 L456.9,141.4 L457.9,139.1 L458.9,136.6 L459.9,134.0 L460.9,131.2 L461.9,128.3 L462.9,125.2 L463.9,121.9 L464.9,118.5 L465.9,114.9 L466.9,111.1 L467.9,107.2 L468.9,103.1 L469.9,98.8 L470.9,94.4 L471.9,89.8 L472.9,85.1 L473.9,80.2 L474.9,75.3 L475.9,70.3 L476.9,65.3 L477.9,60.2 L478.9,55.3 L479.9,50.4 L480.9,45.7 L481.9,41.3 L482.9,37.2 L483.9,33.4 L484.9,30.1 L485.9,27.3 L486.9,25.1 L487.9,23.4 L488.9,22.5 L489.9,22.2 L490.9,22.6 L491.9,23.5 L492.9,25.1 L493.9,27.2 L494.9,29.8 L495.9,32.9 L496.9,36.4 L497.9,40.3 L498.9,44.4 L499.9,48.7 L500.9,53.3 L501.9,57.9 L502.9,62.6 L503.9,67.4 L504.9,72.1 L505.9,76.9 L506.9,81.5 L507.9,86.1 L508.9,90.5 L509.9,94.8 L510.9,99.0 L511.9,103.1 L512.9,107.0 L513.9,110.8 L514.9,114.4 L515.9,117.8 L516.9,121.1 L517.9,124.2 L518.9,127.2 L519.9,130.0 L520.9,132.7 L521.9,135.2 L522.9,137.6 L523.9,139.8 L524.9,141.9 L525.9,143.9 L526.9,145.8 L527.9,147.5 L528.9,149.2 L529.9,150.7 L530.9,152.2 L531.9,153.5 L532.9,154.8 L533.9,156.0 L534.9,157.1 L535.9,158.1 L536.9,159.1 L537.9,160.0 L538.9,160.9 L539.9,161.7 L540.9,162.4 L541.9,163.1 L542.9,163.8 L543.9,164.4 L544.9,165.0 L545.9,165.5 L546.9,166.0 L547.9,166.5 L548.9,167.0 L549.9,167.4 L550.9,167.8 L551.9,168.2 L552.9,168.6 L553.9,168.9 L554.9,169.3 L555.9,169.6 L556.9,169.9 L557.9,170.2 L558.9,170.4 L559.9,170.7 L560.9,170.9 L561.9,171.2 L562.9,171.4 L563.9,171.6 L564.9,171.8 L565.9,172.0 L566.9,172.2 L567.9,172.3 L568.9,172.5 L569.9,172.7 L570.9,172.8 L571.9,172.9 L572.9,173.1 L573.9,173.2 L574.9,173.3 L575.9,173.4 L576.9,173.5 L577.9,173.6 L578.9,173.7 L579.9,173.8 L580.9,173.9 L581.9,173.9 L582.9,174.0 L583.9,174.0 L584.9,174.1 L585.9,174.1 L586.9,174.2 L587.9,174.2 L588.9,174.2 L589.9,174.2 L590.9,174.3 L591.9,174.3 L592.9,174.3 L593.9,174.3 L594.9,174.3 L595.9,174.3 L596.9,174.3 L597.9,174.3 L598.9,174.3 L599.9,174.3 L600.9,174.3 L601.9,174.3 L602.9,174.3 L603.9,174.3 L604.9,174.3 L605.9,174.3 L606.9,174.3 L607.9,174.3 L608.9,174.3 L609.9,174.3 L610.9,174.3 L611.9,174.3 L612.9,174.3 L613.9,174.3 L614.9,174.4 L615.9,174.4 L616.9,174.4 L617.9,174.4 L618.9,174.4 L619.9,174.4 L620.9,174.4 L621.9,174.5 L622.9,174.5 L623.9,174.5 L624.9,174.5 L625.9,174.5 L626.9,174.5 L627.9,174.6 L628.9,174.6 L629.9,174.6 L630.9,174.6 L631.9,174.6 L632.9,174.7 L633.9,174.7 L634.9,174.7 L635.9,174.7 L636.9,174.7 L637.9,174.7 L638.9,174.8 L639.9,174.8 L640.9,174.8 L641.9,174.8 L642.9,174.8 L643.9,174.9 L644.9,174.9 L645.9,174.9 L646.9,174.9 L647.9,174.9 L648.9,175.0 L649.9,175.0 L650.9,175.0 L651.9,175.0 L652.9,175.0 L653.9,175.0 L654.9,175.1 L655.9,175.1 L656.9,175.1 L657.9,175.1 L658.9,175.1 L659.9,175.1 L660.9,175.2 L661.9,175.2 L662.9,175.2 L663.9,175.2 L664.9,175.2 L665.9,175.2 L666.9,175.2 L667.9,175.3 L668.9,175.3 L669.9,175.3 L670.9,175.3 L671.9,175.3 L672.9,175.3 L673.9,175.3" fill="none" stroke="#1075ff" stroke-width="2.0" stroke-linejoin="round" stroke-linecap="round"/>
<path d="M381.9,187.4 L382.9,187.4 L383.9,187.4 L384.9,187.4 L385.9,187.4 L386.9,187.3 L387.9,187.3 L388.9,187.3 L389.9,187.3 L390.9,187.3 L391.9,187.3 L392.9,187.3 L393.9,187.2 L394.9,187.2 L395.9,187.2 L396.9,187.2 L397.9,187.2 L398.9,187.2 L399.9,187.1 L400.9,187.1 L401.9,187.1 L402.9,187.1 L403.9,187.1 L404.9,187.1 L405.9,187.0 L406.9,187.0 L407.9,187.0 L408.9,187.0 L409.9,187.0 L410.9,186.9 L411.9,186.9 L412.9,186.9 L413.9,186.9 L414.9,186.8 L415.9,186.8 L416.9,186.8 L417.9,186.8 L418.9,186.7 L419.9,186.7 L420.9,186.7 L421.9,186.7 L422.9,186.6 L423.9,186.6 L424.9,186.6 L425.9,186.6 L426.9,186.5 L427.9,186.5 L428.9,186.5 L429.9,186.4 L430.9,186.4 L431.9,186.4 L432.9,186.3 L433.9,186.3 L434.9,186.3 L435.9,186.2 L436.9,186.2 L437.9,186.2 L438.9,186.1 L439.9,186.1 L440.9,186.1 L441.9,186.0 L442.9,186.0 L443.9,185.9 L444.9,185.9 L445.9,185.8 L446.9,185.8 L447.9,185.7 L448.9,185.7 L449.9,185.6 L450.9,185.6 L451.9,185.5 L452.9,185.5 L453.9,185.4 L454.9,185.4 L455.9,185.3 L456.9,185.2 L457.9,185.2 L458.9,185.1 L459.9,185.0 L460.9,184.9 L461.9,184.9 L462.9,184.8 L463.9,184.7 L464.9,184.6 L465.9,184.5 L466.9,184.4 L467.9,184.3 L468.9,184.2 L469.9,184.1 L470.9,184.0 L471.9,183.9 L472.9,183.8 L473.9,183.7 L474.9,183.5 L475.9,183.4 L476.9,183.3 L477.9,183.1 L478.9,183.0 L479.9,182.8 L480.9,182.7 L481.9,182.5 L482.9,182.3 L483.9,182.2 L484.9,182.0 L485.9,181.8 L486.9,181.6 L487.9,181.4 L488.9,181.3 L489.9,181.1 L490.9,180.9 L491.9,180.7 L492.9,180.5 L493.9,180.3 L494.9,180.1 L495.9,179.9 L496.9,179.7 L497.9,179.5 L498.9,179.3 L499.9,179.1 L500.9,178.9 L501.9,178.7 L502.9,178.6 L503.9,178.4 L504.9,178.2 L505.9,178.0 L506.9,177.8 L507.9,177.6 L508.9,177.4 L509.9,177.2 L510.9,177.0 L511.9,176.8 L512.9,176.6 L513.9,176.4 L514.9,176.2 L515.9,176.0 L516.9,175.8 L517.9,175.6 L518.9,175.4 L519.9,175.1 L520.9,174.9 L521.9,174.7 L522.9,174.4 L523.9,174.2 L524.9,174.0 L525.9,173.7 L526.9,173.4 L527.9,173.1 L528.9,172.9 L529.9,172.6 L530.9,172.3 L531.9,171.9 L532.9,171.6 L533.9,171.3 L534.9,170.9 L535.9,170.5 L536.9,170.1 L537.9,169.7 L538.9,169.3 L539.9,168.8 L540.9,168.4 L541.9,167.9 L542.9,167.3 L543.9,166.8 L544.9,166.2 L545.9,165.6 L546.9,164.9 L547.9,164.2 L548.9,163.5 L549.9,162.7 L550.9,161.9 L551.9,161.0 L552.9,160.0 L553.9,159.0 L554.9,158.0 L555.9,156.9 L556.9,155.7 L557.9,154.4 L558.9,153.1 L559.9,151.6 L560.9,150.1 L561.9,148.5 L562.9,146.8 L563.9,145.0 L564.9,143.1 L565.9,141.0 L566.9,138.9 L567.9,136.6 L568.9,134.3 L569.9,131.8 L570.9,129.2 L571.9,126.4 L572.9,123.6 L573.9,120.6 L574.9,117.5 L575.9,114.3 L576.9,111.0 L577.9,107.6 L578.9,104.1 L579.9,100.6 L580.9,97.0 L581.9,93.5 L582.9,90.0 L583.9,86.5 L584.9,83.2 L585.9,80.0 L586.9,77.1 L587.9,74.4 L588.9,72.0 L589.9,69.9 L590.9,68.3 L591.9,67.1 L592.9,66.4 L593.9,66.2 L594.9,66.4 L595.9,67.0 L596.9,68.1 L597.9,69.6 L598.9,71.4 L599.9,73.6 L600.9,76.0 L601.9,78.8 L602.9,81.7 L603.9,84.7 L604.9,87.9 L605.9,91.2 L606.9,94.6 L607.9,97.9 L608.9,101.3 L609.9,104.6 L610.9,107.9 L611.9,111.2 L612.9,114.3 L613.9,117.4 L614.9,120.4 L615.9,123.3 L616.9,126.0 L617.9,128.7 L618.9,131.3 L619.9,133.7 L620.9,136.0 L621.9,138.2 L622.9,140.3 L623.9,142.3 L624.9,144.2 L625.9,146.0 L626.9,147.6 L627.9,149.2 L628.9,150.7 L629.9,152.1 L630.9,153.4 L631.9,154.6 L632.9,155.7 L633.9,156.8 L634.9,157.8 L635.9,158.7 L636.9,159.6 L637.9,160.4 L638.9,161.2 L639.9,161.9 L640.9,162.5 L641.9,163.1 L642.9,163.7 L643.9,164.2 L644.9,164.7 L645.9,165.2 L646.9,165.7 L647.9,166.1 L648.9,166.5 L649.9,166.8 L650.9,167.2 L651.9,167.5 L652.9,167.8 L653.9,168.1 L654.9,168.4 L655.9,168.6 L656.9,168.9 L657.9,169.1 L658.9,169.3 L659.9,169.5 L660.9,169.7 L661.9,169.9 L662.9,170.1 L663.9,170.3 L664.9,170.5 L665.9,170.6 L666.9,170.8 L667.9,170.9 L668.9,171.1 L669.9,171.2 L670.9,171.3 L671.9,171.5 L672.9,171.6 L673.9,171.7" fill="none" stroke="#ff7f0a" stroke-width="2.0" stroke-linejoin="round" stroke-linecap="round"/>
<line x1="494.8" y1="116.4" x2="589.4000000000001" y2="116.4" stroke="#6a6a6a" stroke-width="1"/><path d="M489.5,116.4 L495.3,114.60000000000001 L495.3,118.2 Z" fill="#111"/><path d="M594.7,116.4 L588.9000000000001,114.60000000000001 L588.9000000000001,118.2 Z" fill="#111"/>
<rect x="380.85" y="1.6" width="294.15" height="218.40" fill="none" stroke="#000" stroke-width="1.95"/>
<line x1="398.15" y1="220.0" x2="398.15" y2="224.90" stroke="#000" stroke-width="1.7"/>
<line x1="432.76" y1="220.0" x2="432.76" y2="224.90" stroke="#000" stroke-width="1.7"/>
<line x1="467.36" y1="220.0" x2="467.36" y2="224.90" stroke="#000" stroke-width="1.7"/>
<line x1="501.97" y1="220.0" x2="501.97" y2="224.90" stroke="#000" stroke-width="1.7"/>
<line x1="536.58" y1="220.0" x2="536.58" y2="224.90" stroke="#000" stroke-width="1.7"/>
<line x1="571.18" y1="220.0" x2="571.18" y2="224.90" stroke="#000" stroke-width="1.7"/>
<line x1="605.79" y1="220.0" x2="605.79" y2="224.90" stroke="#000" stroke-width="1.7"/>
<line x1="640.39" y1="220.0" x2="640.39" y2="224.90" stroke="#000" stroke-width="1.7"/>
<line x1="675.00" y1="220.0" x2="675.00" y2="224.90" stroke="#000" stroke-width="1.7"/>
<line x1="380.85" y1="220.0" x2="380.85" y2="222.90" stroke="#000" stroke-width="1.5"/>
<line x1="415.46" y1="220.0" x2="415.46" y2="222.90" stroke="#000" stroke-width="1.5"/>
<line x1="450.06" y1="220.0" x2="450.06" y2="222.90" stroke="#000" stroke-width="1.5"/>
<line x1="484.67" y1="220.0" x2="484.67" y2="222.90" stroke="#000" stroke-width="1.5"/>
<line x1="519.27" y1="220.0" x2="519.27" y2="222.90" stroke="#000" stroke-width="1.5"/>
<line x1="553.88" y1="220.0" x2="553.88" y2="222.90" stroke="#000" stroke-width="1.5"/>
<line x1="588.49" y1="220.0" x2="588.49" y2="222.90" stroke="#000" stroke-width="1.5"/>
<line x1="623.09" y1="220.0" x2="623.09" y2="222.90" stroke="#000" stroke-width="1.5"/>
<line x1="657.70" y1="220.0" x2="657.70" y2="222.90" stroke="#000" stroke-width="1.5"/>
<text x="397.85" y="237.00" font-size="12.4" text-anchor="middle">362</text>
<text x="432.46" y="237.00" font-size="12.4" text-anchor="middle">364</text>
<text x="467.06" y="237.00" font-size="12.4" text-anchor="middle">366</text>
<text x="501.67" y="237.00" font-size="12.4" text-anchor="middle">368</text>
<text x="536.28" y="237.00" font-size="12.4" text-anchor="middle">370</text>
<text x="570.88" y="237.00" font-size="12.4" text-anchor="middle">372</text>
<text x="605.49" y="237.00" font-size="12.4" text-anchor="middle">374</text>
<text x="640.09" y="237.00" font-size="12.4" text-anchor="middle">376</text>
<text x="674.70" y="237.00" font-size="12.4" text-anchor="middle">378</text>
<path d="M38.5,466.3 L42.8,467.7 L48.0,468.0 L51.6,469.2 L54.5,469.9 L58.9,469.6 L61.8,468.5 L64.7,466.6 L68.4,466.0 L72.0,464.8 L76.4,464.1 L80.8,462.6 L86.6,460.4 L89.6,459.3 L92.5,460.4 L95.4,460.1 L99.8,458.2 L104.2,455.3 L107.4,450.0 L111.4,444.5 L115.9,437.7 L119.9,430.9 L123.3,424.1 L126.7,416.1 L129.5,409.3 L133.0,401.4 L135.8,394.5 L137.5,390.0 L141.2,375.5 L142.4,374.0 L146.8,359.1 L151.2,343.3 L154.7,329.3 L160.0,317.8 L164.4,306.2 L167.3,298.1 L170.2,293.8 L173.1,293.0 L175.3,290.5 L177.5,290.3 L179.7,291.9 L182.6,291.9 L185.5,293.4 L187.7,294.9 L189.2,297.8 L192.1,300.3 L195.0,302.9 L197.2,306.9 L199.4,312.7 L202.0,317.1 L206.4,324.0 L210.7,334.6 L215.1,346.8 L219.5,359.1 L223.0,369.6 L225.0,379.7 L229.7,390.2 L233.8,398.4 L236.7,407.0 L239.3,414.0 L243.7,423.7 L247.2,426.3 L251.6,429.9 L256.0,433.6 L260.4,437.2 L266.2,439.1 L272.0,441.6 L275.7,445.3 L279.3,448.9 L283.7,450.4 L287.4,449.9 L291.0,451.8 L295.4,452.8 L299.8,453.7 L302.7,453.3 L307.1,451.8 L311.5,451.4 L316.6,451.4 L320.9,452.6 L324.6,452.3 L329.0,451.1" fill="none" stroke="#000" stroke-width="1.8" stroke-linejoin="round" stroke-linecap="round"/>
<path d="M38.5,465.4 L39.5,465.4 L40.5,465.4 L41.5,465.4 L42.5,465.4 L43.5,465.4 L44.5,465.4 L45.5,465.4 L46.5,465.4 L47.5,465.4 L48.5,465.3 L49.5,465.3 L50.5,465.3 L51.5,465.3 L52.5,465.3 L53.5,465.3 L54.5,465.3 L55.5,465.3 L56.5,465.3 L57.5,465.3 L58.5,465.3 L59.5,465.2 L60.5,465.2 L61.5,465.2 L62.5,465.2 L63.5,465.2 L64.5,465.2 L65.5,465.2 L66.5,465.2 L67.5,465.2 L68.5,465.2 L69.5,465.1 L70.5,465.1 L71.5,465.1 L72.5,465.1 L73.5,465.1 L74.5,465.1 L75.5,465.1 L76.5,465.1 L77.5,465.0 L78.5,465.0 L79.5,465.0 L80.5,465.0 L81.5,465.0 L82.5,465.0 L83.5,465.0 L84.5,464.9 L85.5,464.9 L86.5,464.9 L87.5,464.9 L88.5,464.9 L89.5,464.9 L90.5,464.8 L91.5,464.8 L92.5,464.8 L93.5,464.8 L94.5,464.8 L95.5,464.7 L96.5,464.7 L97.5,464.7 L98.5,464.7 L99.5,464.7 L100.5,464.6 L101.5,464.6 L102.5,464.6 L103.5,464.6 L104.5,464.5 L105.5,464.5 L106.5,464.5 L107.5,464.5 L108.5,464.4 L109.5,464.4 L110.5,464.4 L111.5,464.3 L112.5,464.3 L113.5,464.3 L114.5,464.2 L115.5,464.2 L116.5,464.2 L117.5,464.1 L118.5,464.1 L119.5,464.1 L120.5,464.0 L121.5,464.0 L122.5,463.9 L123.5,463.9 L124.5,463.9 L125.5,463.8 L126.5,463.8 L127.5,463.7 L128.6,463.7 L129.6,463.6 L130.6,463.5 L131.6,463.5 L132.6,463.4 L133.6,463.4 L134.6,463.3 L135.6,463.2 L136.6,463.2 L137.6,463.1 L138.6,463.0 L139.6,462.9 L140.6,462.9 L141.6,462.8 L142.6,462.7 L143.6,462.6 L144.6,462.5 L145.6,462.4 L146.6,462.3 L147.6,462.2 L148.6,462.1 L149.6,462.0 L150.6,461.9 L151.6,461.8 L152.6,461.7 L153.6,461.5 L154.6,461.4 L155.6,461.3 L156.6,461.2 L157.6,461.0 L158.6,460.9 L159.6,460.7 L160.6,460.6 L161.6,460.4 L162.6,460.3 L163.6,460.1 L164.6,460.0 L165.6,459.8 L166.6,459.7 L167.6,459.5 L168.6,459.3 L169.6,459.2 L170.6,459.0 L171.6,458.9 L172.6,458.7 L173.6,458.5 L174.6,458.4 L175.6,458.2 L176.6,458.0 L177.6,457.9 L178.6,457.7 L179.6,457.5 L180.6,457.4 L181.6,457.2 L182.6,457.0 L183.6,456.9 L184.6,456.7 L185.6,456.6 L186.6,456.4 L187.6,456.2 L188.6,456.1 L189.6,455.9 L190.6,455.8 L191.6,455.6 L192.6,455.5 L193.6,455.3 L194.6,455.1 L195.6,455.0 L196.6,454.8 L197.6,454.7 L198.6,454.5 L199.6,454.4 L200.6,454.3 L201.6,454.1 L202.6,454.0 L203.6,453.8 L204.6,453.7 L205.6,453.6 L206.6,453.4 L207.6,453.3 L208.6,453.2 L209.6,453.0 L210.6,452.9 L211.6,452.8 L212.6,452.7 L213.6,452.6 L214.6,452.4 L215.6,452.3 L216.6,452.2 L217.6,452.1 L218.6,452.0 L219.6,451.9 L220.6,451.8 L221.6,451.8 L222.6,451.7 L223.6,451.6 L224.6,451.5 L225.6,451.4 L226.6,451.4 L227.6,451.3 L228.6,451.2 L229.6,451.1 L230.6,451.1 L231.6,451.0 L232.6,451.0 L233.6,450.9 L234.6,450.8 L235.6,450.8 L236.6,450.7 L237.6,450.7 L238.6,450.6 L239.6,450.6 L240.6,450.6 L241.6,450.5 L242.6,450.5 L243.6,450.4 L244.6,450.4 L245.6,450.4 L246.6,450.3 L247.6,450.3 L248.6,450.3 L249.6,450.2 L250.6,450.2 L251.6,450.2 L252.6,450.1 L253.6,450.1 L254.6,450.1 L255.6,450.1 L256.6,450.0 L257.6,450.0 L258.6,450.0 L259.6,450.0 L260.6,449.9 L261.6,449.9 L262.6,449.9 L263.6,449.9 L264.6,449.9 L265.6,449.8 L266.6,449.8 L267.6,449.8 L268.6,449.8 L269.6,449.8 L270.6,449.8 L271.6,449.7 L272.6,449.7 L273.6,449.7 L274.6,449.7 L275.6,449.7 L276.6,449.7 L277.6,449.6 L278.6,449.6 L279.6,449.6 L280.6,449.6 L281.6,449.6 L282.6,449.6 L283.6,449.6 L284.6,449.6 L285.6,449.5 L286.6,449.5 L287.6,449.5 L288.6,449.5 L289.6,449.5 L290.6,449.5 L291.6,449.5 L292.6,449.5 L293.6,449.5 L294.6,449.4 L295.6,449.4 L296.6,449.4 L297.6,449.4 L298.6,449.4 L299.6,449.4 L300.6,449.4 L301.6,449.4 L302.6,449.4 L303.6,449.4 L304.6,449.4 L305.6,449.3 L306.6,449.3 L307.6,449.3 L308.6,449.3 L309.6,449.3 L310.6,449.3 L311.6,449.3 L312.6,449.3 L313.6,449.3 L314.6,449.3 L315.6,449.3 L316.6,449.3 L317.6,449.2 L318.6,449.2 L319.6,449.2 L320.6,449.2 L321.6,449.2 L322.6,449.2 L323.6,449.2 L324.6,449.2 L325.6,449.2 L326.6,449.2 L327.6,449.2 L328.6,449.2 L329.6,449.2 L330.6,449.2" fill="none" stroke="#0000ff" stroke-width="2.0" stroke-linejoin="round" stroke-linecap="round"/>
<path d="M38.5,458.1 L39.5,458.0 L40.5,457.9 L41.5,457.8 L42.5,457.7 L43.5,457.6 L44.5,457.5 L45.5,457.3 L46.5,457.2 L47.5,457.1 L48.5,457.0 L49.5,456.8 L50.5,456.7 L51.5,456.6 L52.5,456.4 L53.5,456.3 L54.5,456.1 L55.5,456.0 L56.5,455.8 L57.5,455.7 L58.5,455.5 L59.5,455.3 L60.5,455.2 L61.5,455.0 L62.5,454.8 L63.5,454.7 L64.5,454.5 L65.5,454.3 L66.5,454.1 L67.5,453.9 L68.5,453.7 L69.5,453.5 L70.5,453.3 L71.5,453.0 L72.5,452.8 L73.5,452.6 L74.5,452.4 L75.5,452.1 L76.5,451.9 L77.5,451.6 L78.5,451.3 L79.5,451.1 L80.5,450.8 L81.5,450.5 L82.5,450.2 L83.5,449.9 L84.5,449.6 L85.5,449.2 L86.5,448.9 L87.5,448.6 L88.5,448.2 L89.5,447.8 L90.5,447.4 L91.5,447.0 L92.5,446.6 L93.5,446.2 L94.5,445.7 L95.5,445.3 L96.5,444.8 L97.5,444.3 L98.5,443.8 L99.5,443.2 L100.5,442.7 L101.5,442.1 L102.5,441.5 L103.5,440.8 L104.5,440.1 L105.5,439.4 L106.5,438.7 L107.5,438.0 L108.5,437.2 L109.5,436.3 L110.5,435.4 L111.5,434.5 L112.5,433.6 L113.5,432.6 L114.5,431.5 L115.5,430.4 L116.5,429.3 L117.5,428.1 L118.5,426.8 L119.5,425.5 L120.5,424.1 L121.5,422.7 L122.5,421.2 L123.5,419.6 L124.5,418.0 L125.5,416.2 L126.5,414.5 L127.5,412.6 L128.6,410.6 L129.6,408.6 L130.6,406.5 L131.6,404.3 L132.6,402.0 L133.6,399.7 L134.6,397.2 L135.6,394.7 L136.6,392.0 L137.6,389.3 L138.6,386.5 L139.6,383.6 L140.6,380.6 L141.6,377.5 L142.6,374.3 L143.6,371.1 L144.6,367.8 L145.6,364.4 L146.6,360.9 L147.6,357.4 L148.6,353.9 L149.6,350.3 L150.6,346.6 L151.6,343.0 L152.6,339.3 L153.6,335.7 L154.6,332.1 L155.6,328.6 L156.6,325.1 L157.6,321.7 L158.6,318.4 L159.6,315.2 L160.6,312.2 L161.6,309.4 L162.6,306.7 L163.6,304.1 L164.6,301.8 L165.6,299.7 L166.6,297.8 L167.6,296.1 L168.6,294.7 L169.6,293.6 L170.6,292.7 L171.6,292.1 L172.6,291.7 L173.6,291.5 L174.6,291.5 L175.6,291.7 L176.6,292.0 L177.6,292.4 L178.6,293.0 L179.6,293.6 L180.6,294.3 L181.6,295.0 L182.6,295.7 L183.6,296.5 L184.6,297.2 L185.6,298.0 L186.6,298.7 L187.6,299.3 L188.6,300.0 L189.6,300.6 L190.6,301.3 L191.6,301.9 L192.6,302.5 L193.6,303.1 L194.6,303.8 L195.6,304.5 L196.6,305.4 L197.6,306.3 L198.6,307.3 L199.6,308.4 L200.6,309.6 L201.6,311.1 L202.6,312.6 L203.6,314.4 L204.6,316.3 L205.6,318.3 L206.6,320.5 L207.6,322.9 L208.6,325.4 L209.6,328.1 L210.6,330.8 L211.6,333.6 L212.6,336.6 L213.6,339.5 L214.6,342.6 L215.6,345.6 L216.6,348.7 L217.6,351.8 L218.6,354.9 L219.6,357.9 L220.6,360.9 L221.6,363.9 L222.6,366.8 L223.6,369.7 L224.6,372.5 L225.6,375.3 L226.6,377.9 L227.6,380.5 L228.6,383.1 L229.6,385.5 L230.6,387.9 L231.6,390.2 L232.6,392.4 L233.6,394.5 L234.6,396.6 L235.6,398.6 L236.6,400.5 L237.6,402.4 L238.6,404.1 L239.6,405.8 L240.6,407.5 L241.6,409.0 L242.6,410.5 L243.6,412.0 L244.6,413.3 L245.6,414.7 L246.6,415.9 L247.6,417.1 L248.6,418.3 L249.6,419.4 L250.6,420.4 L251.6,421.4 L252.6,422.4 L253.6,423.3 L254.6,424.2 L255.6,425.0 L256.6,425.8 L257.6,426.6 L258.6,427.3 L259.6,428.0 L260.6,428.6 L261.6,429.3 L262.6,429.9 L263.6,430.5 L264.6,431.0 L265.6,431.5 L266.6,432.0 L267.6,432.5 L268.6,433.0 L269.6,433.4 L270.6,433.8 L271.6,434.2 L272.6,434.6 L273.6,435.0 L274.6,435.4 L275.6,435.7 L276.6,436.0 L277.6,436.3 L278.6,436.6 L279.6,436.9 L280.6,437.2 L281.6,437.5 L282.6,437.8 L283.6,438.0 L284.6,438.2 L285.6,438.5 L286.6,438.7 L287.6,438.9 L288.6,439.1 L289.6,439.3 L290.6,439.5 L291.6,439.7 L292.6,439.9 L293.6,440.1 L294.6,440.3 L295.6,440.4 L296.6,440.6 L297.6,440.8 L298.6,440.9 L299.6,441.1 L300.6,441.2 L301.6,441.4 L302.6,441.5 L303.6,441.6 L304.6,441.8 L305.6,441.9 L306.6,442.0 L307.6,442.1 L308.6,442.3 L309.6,442.4 L310.6,442.5 L311.6,442.6 L312.6,442.7 L313.6,442.8 L314.6,442.9 L315.6,443.0 L316.6,443.1 L317.6,443.2 L318.6,443.3 L319.6,443.4 L320.6,443.4 L321.6,443.5 L322.6,443.6 L323.6,443.7 L324.6,443.8 L325.6,443.9 L326.6,443.9 L327.6,444.0 L328.6,444.1 L329.6,444.1 L330.6,444.2" fill="none" stroke="#ff0000" stroke-width="2.0" stroke-linejoin="round" stroke-linecap="round"/>
<path d="M38.5,459.8 L39.5,459.7 L40.5,459.6 L41.5,459.5 L42.5,459.4 L43.5,459.3 L44.5,459.2 L45.5,459.1 L46.5,459.0 L47.5,458.9 L48.5,458.8 L49.5,458.7 L50.5,458.5 L51.5,458.4 L52.5,458.3 L53.5,458.2 L54.5,458.1 L55.5,457.9 L56.5,457.8 L57.5,457.6 L58.5,457.5 L59.5,457.4 L60.5,457.2 L61.5,457.1 L62.5,456.9 L63.5,456.8 L64.5,456.6 L65.5,456.4 L66.5,456.2 L67.5,456.1 L68.5,455.9 L69.5,455.7 L70.5,455.5 L71.5,455.3 L72.5,455.1 L73.5,454.9 L74.5,454.7 L75.5,454.5 L76.5,454.2 L77.5,454.0 L78.5,453.8 L79.5,453.5 L80.5,453.3 L81.5,453.0 L82.5,452.7 L83.5,452.4 L84.5,452.2 L85.5,451.9 L86.5,451.5 L87.5,451.2 L88.5,450.9 L89.5,450.5 L90.5,450.2 L91.5,449.8 L92.5,449.4 L93.5,449.0 L94.5,448.6 L95.5,448.2 L96.5,447.7 L97.5,447.3 L98.5,446.8 L99.5,446.3 L100.5,445.8 L101.5,445.2 L102.5,444.7 L103.5,444.1 L104.5,443.5 L105.5,442.8 L106.5,442.2 L107.5,441.5 L108.5,440.8 L109.5,440.0 L110.5,439.2 L111.5,438.4 L112.5,437.5 L113.5,436.6 L114.5,435.7 L115.5,434.7 L116.5,433.7 L117.5,432.6 L118.5,431.5 L119.5,430.4 L120.5,429.2 L121.5,427.9 L122.5,426.6 L123.5,425.2 L124.5,423.8 L125.5,422.3 L126.5,420.7 L127.5,419.1 L128.6,417.4 L129.6,415.6 L130.6,413.8 L131.6,411.9 L132.6,409.9 L133.6,407.9 L134.6,405.8 L135.6,403.6 L136.6,401.3 L137.6,398.9 L138.6,396.5 L139.6,394.0 L140.6,391.4 L141.6,388.8 L142.6,386.1 L143.6,383.3 L144.6,380.4 L145.6,377.5 L146.6,374.5 L147.6,371.5 L148.6,368.5 L149.6,365.4 L150.6,362.3 L151.6,359.3 L152.6,356.2 L153.6,353.2 L154.6,350.2 L155.6,347.3 L156.6,344.5 L157.6,341.8 L158.6,339.2 L159.6,336.8 L160.6,334.6 L161.6,332.6 L162.6,330.8 L163.6,329.2 L164.6,327.9 L165.6,326.9 L166.6,326.2 L167.6,325.8 L168.6,325.7 L169.6,325.8 L170.6,326.3 L171.6,327.0 L172.6,327.9 L173.6,329.2 L174.6,330.6 L175.6,332.3 L176.6,334.2 L177.6,336.2 L178.6,338.5 L179.6,340.8 L180.6,343.3 L181.6,345.9 L182.6,348.5 L183.6,351.2 L184.6,354.0 L185.6,356.8 L186.6,359.6 L187.6,362.4 L188.6,365.2 L189.6,367.9 L190.6,370.7 L191.6,373.4 L192.6,376.0 L193.6,378.6 L194.6,381.2 L195.6,383.6 L196.6,386.1 L197.6,388.4 L198.6,390.7 L199.6,392.9 L200.6,395.1 L201.6,397.1 L202.6,399.1 L203.6,401.1 L204.6,402.9 L205.6,404.7 L206.6,406.5 L207.6,408.1 L208.6,409.7 L209.6,411.2 L210.6,412.7 L211.6,414.1 L212.6,415.4 L213.6,416.7 L214.6,417.9 L215.6,419.1 L216.6,420.2 L217.6,421.3 L218.6,422.3 L219.6,423.3 L220.6,424.2 L221.6,425.1 L222.6,425.9 L223.6,426.7 L224.6,427.5 L225.6,428.2 L226.6,428.9 L227.6,429.6 L228.6,430.2 L229.6,430.8 L230.6,431.4 L231.6,431.9 L232.6,432.4 L233.6,432.9 L234.6,433.4 L235.6,433.8 L236.6,434.3 L237.6,434.7 L238.6,435.1 L239.6,435.4 L240.6,435.8 L241.6,436.1 L242.6,436.5 L243.6,436.8 L244.6,437.1 L245.6,437.4 L246.6,437.7 L247.6,437.9 L248.6,438.2 L249.6,438.4 L250.6,438.7 L251.6,438.9 L252.6,439.1 L253.6,439.3 L254.6,439.5 L255.6,439.7 L256.6,439.9 L257.6,440.1 L258.6,440.3 L259.6,440.5 L260.6,440.6 L261.6,440.8 L262.6,440.9 L263.6,441.1 L264.6,441.2 L265.6,441.4 L266.6,441.5 L267.6,441.7 L268.6,441.8 L269.6,441.9 L270.6,442.1 L271.6,442.2 L272.6,442.3 L273.6,442.4 L274.6,442.5 L275.6,442.6 L276.6,442.7 L277.6,442.8 L278.6,442.9 L279.6,443.0 L280.6,443.1 L281.6,443.2 L282.6,443.3 L283.6,443.4 L284.6,443.5 L285.6,443.6 L286.6,443.7 L287.6,443.7 L288.6,443.8 L289.6,443.9 L290.6,444.0 L291.6,444.0 L292.6,444.1 L293.6,444.2 L294.6,444.3 L295.6,444.3 L296.6,444.4 L297.6,444.4 L298.6,444.5 L299.6,444.6 L300.6,444.6 L301.6,444.7 L302.6,444.7 L303.6,444.8 L304.6,444.9 L305.6,444.9 L306.6,445.0 L307.6,445.0 L308.6,445.1 L309.6,445.1 L310.6,445.2 L311.6,445.2 L312.6,445.3 L313.6,445.3 L314.6,445.3 L315.6,445.4 L316.6,445.4 L317.6,445.5 L318.6,445.5 L319.6,445.6 L320.6,445.6 L321.6,445.6 L322.6,445.7 L323.6,445.7 L324.6,445.7 L325.6,445.8 L326.6,445.8 L327.6,445.9 L328.6,445.9 L329.6,445.9 L330.6,446.0" fill="none" stroke="#1075ff" stroke-width="2.0" stroke-linejoin="round" stroke-linecap="round"/>
<path d="M38.5,463.8 L39.5,463.8 L40.5,463.7 L41.5,463.7 L42.5,463.7 L43.5,463.6 L44.5,463.6 L45.5,463.6 L46.5,463.6 L47.5,463.5 L48.5,463.5 L49.5,463.5 L50.5,463.4 L51.5,463.4 L52.5,463.4 L53.5,463.3 L54.5,463.3 L55.5,463.3 L56.5,463.2 L57.5,463.2 L58.5,463.1 L59.5,463.1 L60.5,463.1 L61.5,463.0 L62.5,463.0 L63.5,463.0 L64.5,462.9 L65.5,462.9 L66.5,462.8 L67.5,462.8 L68.5,462.7 L69.5,462.7 L70.5,462.6 L71.5,462.6 L72.5,462.5 L73.5,462.5 L74.5,462.4 L75.5,462.4 L76.5,462.3 L77.5,462.3 L78.5,462.2 L79.5,462.2 L80.5,462.1 L81.5,462.0 L82.5,462.0 L83.5,461.9 L84.5,461.9 L85.5,461.8 L86.5,461.7 L87.5,461.7 L88.5,461.6 L89.5,461.5 L90.5,461.4 L91.5,461.4 L92.5,461.3 L93.5,461.2 L94.5,461.1 L95.5,461.0 L96.5,461.0 L97.5,460.9 L98.5,460.8 L99.5,460.7 L100.5,460.6 L101.5,460.5 L102.5,460.4 L103.5,460.3 L104.5,460.2 L105.5,460.1 L106.5,460.0 L107.5,459.8 L108.5,459.7 L109.5,459.6 L110.5,459.5 L111.5,459.3 L112.5,459.2 L113.5,459.1 L114.5,458.9 L115.5,458.8 L116.5,458.6 L117.5,458.5 L118.5,458.3 L119.5,458.1 L120.5,458.0 L121.5,457.8 L122.5,457.6 L123.5,457.4 L124.5,457.2 L125.5,457.0 L126.5,456.8 L127.5,456.6 L128.6,456.3 L129.6,456.1 L130.6,455.8 L131.6,455.6 L132.6,455.3 L133.6,455.0 L134.6,454.7 L135.6,454.4 L136.6,454.0 L137.6,453.7 L138.6,453.3 L139.6,453.0 L140.6,452.6 L141.6,452.1 L142.6,451.7 L143.6,451.2 L144.6,450.8 L145.6,450.3 L146.6,449.7 L147.6,449.2 L148.6,448.6 L149.6,448.0 L150.6,447.3 L151.6,446.6 L152.6,445.9 L153.6,445.1 L154.6,444.3 L155.6,443.5 L156.6,442.6 L157.6,441.7 L158.6,440.8 L159.6,439.7 L160.6,438.7 L161.6,437.6 L162.6,436.4 L163.6,435.2 L164.6,434.0 L165.6,432.6 L166.6,431.3 L167.6,429.8 L168.6,428.3 L169.6,426.8 L170.6,425.2 L171.6,423.5 L172.6,421.8 L173.6,420.0 L174.6,418.2 L175.6,416.3 L176.6,414.4 L177.6,412.4 L178.6,410.3 L179.6,408.2 L180.6,406.1 L181.6,403.9 L182.6,401.7 L183.6,399.4 L184.6,397.1 L185.6,394.8 L186.6,392.5 L187.6,390.2 L188.6,388.0 L189.6,385.7 L190.6,383.5 L191.6,381.3 L192.6,379.2 L193.6,377.2 L194.6,375.3 L195.6,373.5 L196.6,371.9 L197.6,370.4 L198.6,369.1 L199.6,368.0 L200.6,367.1 L201.6,366.4 L202.6,365.9 L203.6,365.6 L204.6,365.6 L205.6,365.8 L206.6,366.2 L207.6,366.8 L208.6,367.6 L209.6,368.7 L210.6,369.9 L211.6,371.2 L212.6,372.7 L213.6,374.3 L214.6,376.1 L215.6,377.9 L216.6,379.8 L217.6,381.8 L218.6,383.8 L219.6,385.8 L220.6,387.8 L221.6,389.9 L222.6,391.9 L223.6,394.0 L224.6,396.0 L225.6,398.0 L226.6,399.9 L227.6,401.8 L228.6,403.7 L229.6,405.5 L230.6,407.3 L231.6,409.0 L232.6,410.7 L233.6,412.3 L234.6,413.9 L235.6,415.4 L236.6,416.8 L237.6,418.2 L238.6,419.5 L239.6,420.8 L240.6,422.1 L241.6,423.2 L242.6,424.4 L243.6,425.4 L244.6,426.5 L245.6,427.4 L246.6,428.4 L247.6,429.2 L248.6,430.1 L249.6,430.9 L250.6,431.6 L251.6,432.3 L252.6,433.0 L253.6,433.7 L254.6,434.3 L255.6,434.9 L256.6,435.4 L257.6,435.9 L258.6,436.4 L259.6,436.9 L260.6,437.3 L261.6,437.7 L262.6,438.1 L263.6,438.5 L264.6,438.8 L265.6,439.2 L266.6,439.5 L267.6,439.8 L268.6,440.1 L269.6,440.4 L270.6,440.6 L271.6,440.9 L272.6,441.1 L273.6,441.3 L274.6,441.5 L275.6,441.7 L276.6,441.9 L277.6,442.1 L278.6,442.3 L279.6,442.5 L280.6,442.6 L281.6,442.8 L282.6,442.9 L283.6,443.1 L284.6,443.2 L285.6,443.3 L286.6,443.5 L287.6,443.6 L288.6,443.7 L289.6,443.8 L290.6,443.9 L291.6,444.0 L292.6,444.1 L293.6,444.2 L294.6,444.3 L295.6,444.4 L296.6,444.5 L297.6,444.6 L298.6,444.7 L299.6,444.8 L300.6,444.9 L301.6,444.9 L302.6,445.0 L303.6,445.1 L304.6,445.1 L305.6,445.2 L306.6,445.3 L307.6,445.3 L308.6,445.4 L309.6,445.5 L310.6,445.5 L311.6,445.6 L312.6,445.6 L313.6,445.7 L314.6,445.8 L315.6,445.8 L316.6,445.9 L317.6,445.9 L318.6,446.0 L319.6,446.0 L320.6,446.0 L321.6,446.1 L322.6,446.1 L323.6,446.2 L324.6,446.2 L325.6,446.3 L326.6,446.3 L327.6,446.3 L328.6,446.4 L329.6,446.4 L330.6,446.4" fill="none" stroke="#ff7f0a" stroke-width="2.0" stroke-linejoin="round" stroke-linecap="round"/>
<line x1="132.3" y1="328.5" x2="157.7" y2="335.1" stroke="#3a3a3a" stroke-width="0.8"/>
<line x1="234.6" y1="360" x2="212.3" y2="367.5" stroke="#3a3a3a" stroke-width="0.8"/>
<rect x="37.55" y="268.9" width="294.05" height="218.50" fill="none" stroke="#000" stroke-width="1.95"/>
<line x1="60.17" y1="487.4" x2="60.17" y2="492.30" stroke="#000" stroke-width="1.7"/>
<line x1="105.41" y1="487.4" x2="105.41" y2="492.30" stroke="#000" stroke-width="1.7"/>
<line x1="150.65" y1="487.4" x2="150.65" y2="492.30" stroke="#000" stroke-width="1.7"/>
<line x1="195.88" y1="487.4" x2="195.88" y2="492.30" stroke="#000" stroke-width="1.7"/>
<line x1="241.12" y1="487.4" x2="241.12" y2="492.30" stroke="#000" stroke-width="1.7"/>
<line x1="286.36" y1="487.4" x2="286.36" y2="492.30" stroke="#000" stroke-width="1.7"/>
<line x1="331.60" y1="487.4" x2="331.60" y2="492.30" stroke="#000" stroke-width="1.7"/>
<line x1="37.55" y1="487.4" x2="37.55" y2="490.30" stroke="#000" stroke-width="1.5"/>
<line x1="82.79" y1="487.4" x2="82.79" y2="490.30" stroke="#000" stroke-width="1.5"/>
<line x1="128.03" y1="487.4" x2="128.03" y2="490.30" stroke="#000" stroke-width="1.5"/>
<line x1="173.27" y1="487.4" x2="173.27" y2="490.30" stroke="#000" stroke-width="1.5"/>
<line x1="218.50" y1="487.4" x2="218.50" y2="490.30" stroke="#000" stroke-width="1.5"/>
<line x1="263.74" y1="487.4" x2="263.74" y2="490.30" stroke="#000" stroke-width="1.5"/>
<line x1="308.98" y1="487.4" x2="308.98" y2="490.30" stroke="#000" stroke-width="1.5"/>
<text x="59.87" y="504.40" font-size="12.4" text-anchor="middle">158</text>
<text x="105.11" y="504.40" font-size="12.4" text-anchor="middle">160</text>
<text x="150.35" y="504.40" font-size="12.4" text-anchor="middle">162</text>
<text x="195.58" y="504.40" font-size="12.4" text-anchor="middle">164</text>
<text x="240.82" y="504.40" font-size="12.4" text-anchor="middle">166</text>
<text x="286.06" y="504.40" font-size="12.4" text-anchor="middle">168</text>
<text x="331.30" y="504.40" font-size="12.4" text-anchor="middle">170</text>
<line x1="479.5" y1="300" x2="479.5" y2="487" stroke="#999" stroke-width="1" stroke-dasharray="1,1"/>
<line x1="583.5" y1="338" x2="583.5" y2="487" stroke="#999" stroke-width="1" stroke-dasharray="1,1"/>
<path d="M388.0,461.8 L392.7,461.1 L398.5,460.7 L404.4,458.8 L410.2,457.6 L416.0,456.8 L420.7,456.4 L424.2,455.0 L427.7,452.7 L432.4,448.6 L437.1,443.9 L440.0,439.3 L442.9,435.8 L445.8,431.7 L448.2,425.8 L449.9,420.0 L451.5,407.6 L455.8,390.0 L459.0,372.5 L460.7,359.5 L462.8,347.8 L465.8,336.1 L468.7,325.9 L472.3,314.2 L476.0,305.4 L479.9,299.6 L484.0,305.4 L487.7,314.2 L491.3,324.4 L495.0,336.1 L497.9,347.8 L499.2,355.0 L500.2,359.5 L503.1,372.5 L506.7,390.0 L512.0,405.8 L517.2,418.1 L521.6,426.8 L524.7,431.2 L530.5,434.1 L536.4,433.6 L542.2,430.6 L547.5,426.5 L551.5,420.7 L555.0,412.5 L557.4,404.3 L559.7,395.0 L561.2,390.7 L564.1,380.5 L567.0,370.3 L570.7,360.0 L575.0,348.4 L578.7,341.1 L583.1,337.8 L588.2,341.1 L591.8,348.4 L595.5,357.1 L599.1,367.3 L602.8,377.6 L606.4,387.8 L610.1,398.0 L612.2,404.3 L616.3,409.6 L620.4,414.9 L623.3,420.1 L627.4,425.4 L630.6,429.5 L634.3,431.7 L638.7,433.9 L644.5,434.5 L648.2,436.1 L654.0,437.5 L660.0,438.2 L669.3,439.0" fill="none" stroke="#000" stroke-width="1.8" stroke-linejoin="round" stroke-linecap="round"/>
<path d="M381.9,464.2 L382.9,464.1 L383.9,464.1 L384.9,464.1 L385.9,464.1 L386.9,464.1 L387.9,464.1 L388.9,464.1 L389.9,464.1 L390.9,464.0 L391.9,464.0 L392.9,464.0 L393.9,464.0 L394.9,464.0 L395.9,464.0 L396.9,464.0 L397.9,463.9 L398.9,463.9 L399.9,463.9 L400.9,463.9 L401.9,463.9 L402.9,463.9 L403.9,463.8 L404.9,463.8 L405.9,463.8 L406.9,463.8 L407.9,463.8 L408.9,463.7 L409.9,463.7 L410.9,463.7 L411.9,463.7 L412.9,463.7 L413.9,463.6 L414.9,463.6 L415.9,463.6 L416.9,463.6 L417.9,463.5 L418.9,463.5 L419.9,463.5 L420.9,463.5 L421.9,463.4 L422.9,463.4 L423.9,463.4 L424.9,463.3 L425.9,463.3 L426.9,463.3 L427.9,463.2 L428.9,463.2 L429.9,463.2 L430.9,463.1 L431.9,463.1 L432.9,463.0 L433.9,463.0 L434.9,462.9 L435.9,462.9 L436.9,462.9 L437.9,462.8 L438.9,462.7 L439.9,462.7 L440.9,462.6 L441.9,462.6 L442.9,462.5 L443.9,462.4 L444.9,462.4 L445.9,462.3 L446.9,462.2 L447.9,462.1 L448.9,462.1 L449.9,462.0 L450.9,461.9 L451.9,461.8 L452.9,461.7 L453.9,461.5 L454.9,461.4 L455.9,461.3 L456.9,461.2 L457.9,461.0 L458.9,460.9 L459.9,460.7 L460.9,460.5 L461.9,460.4 L462.9,460.2 L463.9,460.0 L464.9,459.8 L465.9,459.6 L466.9,459.3 L467.9,459.1 L468.9,458.8 L469.9,458.6 L470.9,458.3 L471.9,458.0 L472.9,457.7 L473.9,457.4 L474.9,457.1 L475.9,456.8 L476.9,456.4 L477.9,456.1 L478.9,455.8 L479.9,455.4 L480.9,455.1 L481.9,454.8 L482.9,454.4 L483.9,454.1 L484.9,453.8 L485.9,453.5 L486.9,453.2 L487.9,452.9 L488.9,452.6 L489.9,452.3 L490.9,452.1 L491.9,451.8 L492.9,451.6 L493.9,451.4 L494.9,451.1 L495.9,450.9 L496.9,450.7 L497.9,450.5 L498.9,450.4 L499.9,450.2 L500.9,450.0 L501.9,449.9 L502.9,449.7 L503.9,449.6 L504.9,449.5 L505.9,449.3 L506.9,449.2 L507.9,449.1 L508.9,449.0 L509.9,448.9 L510.9,448.8 L511.9,448.7 L512.9,448.6 L513.9,448.6 L514.9,448.5 L515.9,448.4 L516.9,448.3 L517.9,448.3 L518.9,448.2 L519.9,448.1 L520.9,448.1 L521.9,448.0 L522.9,447.9 L523.9,447.9 L524.9,447.8 L525.9,447.8 L526.9,447.7 L527.9,447.7 L528.9,447.6 L529.9,447.6 L530.9,447.5 L531.9,447.5 L532.9,447.4 L533.9,447.3 L534.9,447.3 L535.9,447.2 L536.9,447.2 L537.9,447.1 L538.9,447.1 L539.9,447.0 L540.9,447.0 L541.9,446.9 L542.9,446.9 L543.9,446.8 L544.9,446.8 L545.9,446.7 L546.9,446.7 L547.9,446.6 L548.9,446.5 L549.9,446.5 L550.9,446.4 L551.9,446.4 L552.9,446.3 L553.9,446.2 L554.9,446.1 L555.9,446.1 L556.9,446.0 L557.9,445.9 L558.9,445.8 L559.9,445.7 L560.9,445.6 L561.9,445.5 L562.9,445.4 L563.9,445.3 L564.9,445.2 L565.9,445.1 L566.9,444.9 L567.9,444.8 L568.9,444.7 L569.9,444.5 L570.9,444.3 L571.9,444.2 L572.9,444.0 L573.9,443.8 L574.9,443.6 L575.9,443.4 L576.9,443.2 L577.9,443.0 L578.9,442.8 L579.9,442.6 L580.9,442.4 L581.9,442.2 L582.9,441.9 L583.9,441.7 L584.9,441.5 L585.9,441.3 L586.9,441.1 L587.9,440.8 L588.9,440.6 L589.9,440.4 L590.9,440.2 L591.9,440.0 L592.9,439.9 L593.9,439.7 L594.9,439.5 L595.9,439.4 L596.9,439.2 L597.9,439.1 L598.9,438.9 L599.9,438.8 L600.9,438.7 L601.9,438.6 L602.9,438.5 L603.9,438.4 L604.9,438.3 L605.9,438.2 L606.9,438.1 L607.9,438.0 L608.9,437.9 L609.9,437.9 L610.9,437.8 L611.9,437.7 L612.9,437.7 L613.9,437.6 L614.9,437.6 L615.9,437.5 L616.9,437.5 L617.9,437.4 L618.9,437.4 L619.9,437.3 L620.9,437.3 L621.9,437.2 L622.9,437.2 L623.9,437.2 L624.9,437.1 L625.9,437.1 L626.9,437.1 L627.9,437.1 L628.9,437.0 L629.9,437.0 L630.9,437.0 L631.9,436.9 L632.9,436.9 L633.9,436.9 L634.9,436.9 L635.9,436.9 L636.9,436.8 L637.9,436.8 L638.9,436.8 L639.9,436.8 L640.9,436.7 L641.9,436.7 L642.9,436.7 L643.9,436.7 L644.9,436.7 L645.9,436.7 L646.9,436.6 L647.9,436.6 L648.9,436.6 L649.9,436.6 L650.9,436.6 L651.9,436.6 L652.9,436.6 L653.9,436.5 L654.9,436.5 L655.9,436.5 L656.9,436.5 L657.9,436.5 L658.9,436.5 L659.9,436.5 L660.9,436.5 L661.9,436.4 L662.9,436.4 L663.9,436.4 L664.9,436.4 L665.9,436.4 L666.9,436.4 L667.9,436.4 L668.9,436.4 L669.9,436.4 L670.9,436.4 L671.9,436.3 L672.9,436.3 L673.9,436.3" fill="none" stroke="#0000ff" stroke-width="2.0" stroke-linejoin="round" stroke-linecap="round"/>
<path d="M381.9,458.7 L382.9,458.6 L383.9,458.5 L384.9,458.3 L385.9,458.2 L386.9,458.1 L387.9,458.0 L388.9,457.8 L389.9,457.7 L390.9,457.5 L391.9,457.4 L392.9,457.2 L393.9,457.1 L394.9,456.9 L395.9,456.8 L396.9,456.6 L397.9,456.4 L398.9,456.2 L399.9,456.0 L400.9,455.8 L401.9,455.6 L402.9,455.4 L403.9,455.2 L404.9,455.0 L405.9,454.8 L406.9,454.5 L407.9,454.3 L408.9,454.0 L409.9,453.7 L410.9,453.5 L411.9,453.2 L412.9,452.9 L413.9,452.6 L414.9,452.2 L415.9,451.9 L416.9,451.5 L417.9,451.1 L418.9,450.8 L419.9,450.3 L420.9,449.9 L421.9,449.5 L422.9,449.0 L423.9,448.5 L424.9,447.9 L425.9,447.4 L426.9,446.8 L427.9,446.2 L428.9,445.5 L429.9,444.8 L430.9,444.0 L431.9,443.2 L432.9,442.4 L433.9,441.5 L434.9,440.5 L435.9,439.4 L436.9,438.3 L437.9,437.1 L438.9,435.8 L439.9,434.5 L440.9,433.0 L441.9,431.4 L442.9,429.7 L443.9,427.9 L444.9,426.0 L445.9,423.9 L446.9,421.7 L447.9,419.4 L448.9,416.9 L449.9,414.2 L450.9,411.4 L451.9,408.3 L452.9,405.1 L453.9,401.8 L454.9,398.2 L455.9,394.4 L456.9,390.5 L457.9,386.4 L458.9,382.0 L459.9,377.5 L460.9,372.8 L461.9,367.9 L462.9,362.9 L463.9,357.8 L464.9,352.5 L465.9,347.2 L466.9,341.8 L467.9,336.5 L468.9,331.1 L469.9,325.9 L470.9,320.9 L471.9,316.1 L472.9,311.6 L473.9,307.6 L474.9,304.0 L475.9,300.9 L476.9,298.4 L477.9,296.7 L478.9,295.6 L479.9,295.2 L480.9,295.5 L481.9,296.5 L482.9,298.2 L483.9,300.6 L484.9,303.4 L485.9,306.8 L486.9,310.6 L487.9,314.7 L488.9,319.1 L489.9,323.7 L490.9,328.4 L491.9,333.1 L492.9,337.9 L493.9,342.7 L494.9,347.4 L495.9,352.1 L496.9,356.6 L497.9,361.0 L498.9,365.2 L499.9,369.3 L500.9,373.2 L501.9,376.9 L502.9,380.5 L503.9,383.8 L504.9,387.0 L505.9,390.1 L506.9,392.9 L507.9,395.6 L508.9,398.1 L509.9,400.4 L510.9,402.6 L511.9,404.6 L512.9,406.5 L513.9,408.2 L514.9,409.8 L515.9,411.3 L516.9,412.7 L517.9,414.0 L518.9,415.1 L519.9,416.2 L520.9,417.1 L521.9,418.0 L522.9,418.8 L523.9,419.5 L524.9,420.1 L525.9,420.6 L526.9,421.1 L527.9,421.6 L528.9,421.9 L529.9,422.2 L530.9,422.5 L531.9,422.7 L532.9,422.8 L533.9,422.9 L534.9,422.9 L535.9,422.9 L536.9,422.8 L537.9,422.7 L538.9,422.5 L539.9,422.3 L540.9,422.0 L541.9,421.6 L542.9,421.2 L543.9,420.7 L544.9,420.2 L545.9,419.5 L546.9,418.8 L547.9,418.0 L548.9,417.1 L549.9,416.1 L550.9,415.0 L551.9,413.8 L552.9,412.5 L553.9,411.1 L554.9,409.6 L555.9,407.9 L556.9,406.1 L557.9,404.2 L558.9,402.1 L559.9,399.9 L560.9,397.5 L561.9,395.0 L562.9,392.4 L563.9,389.5 L564.9,386.6 L565.9,383.5 L566.9,380.2 L567.9,376.8 L568.9,373.4 L569.9,369.8 L570.9,366.2 L571.9,362.5 L572.9,358.9 L573.9,355.3 L574.9,351.8 L575.9,348.5 L576.9,345.4 L577.9,342.6 L578.9,340.1 L579.9,338.1 L580.9,336.5 L581.9,335.5 L582.9,335.0 L583.9,335.0 L584.9,335.6 L585.9,336.7 L586.9,338.4 L587.9,340.4 L588.9,342.9 L589.9,345.6 L590.9,348.7 L591.9,351.9 L592.9,355.3 L593.9,358.7 L594.9,362.2 L595.9,365.7 L596.9,369.2 L597.9,372.6 L598.9,375.9 L599.9,379.1 L600.9,382.2 L601.9,385.1 L602.9,388.0 L603.9,390.7 L604.9,393.2 L605.9,395.7 L606.9,398.0 L607.9,400.1 L608.9,402.1 L609.9,404.0 L610.9,405.8 L611.9,407.5 L612.9,409.1 L613.9,410.5 L614.9,411.9 L615.9,413.1 L616.9,414.3 L617.9,415.4 L618.9,416.4 L619.9,417.3 L620.9,418.2 L621.9,419.0 L622.9,419.8 L623.9,420.5 L624.9,421.1 L625.9,421.8 L626.9,422.3 L627.9,422.9 L628.9,423.4 L629.9,423.8 L630.9,424.3 L631.9,424.7 L632.9,425.1 L633.9,425.4 L634.9,425.8 L635.9,426.1 L636.9,426.4 L637.9,426.7 L638.9,427.0 L639.9,427.2 L640.9,427.5 L641.9,427.7 L642.9,427.9 L643.9,428.1 L644.9,428.4 L645.9,428.6 L646.9,428.7 L647.9,428.9 L648.9,429.1 L649.9,429.3 L650.9,429.4 L651.9,429.6 L652.9,429.7 L653.9,429.9 L654.9,430.0 L655.9,430.1 L656.9,430.3 L657.9,430.4 L658.9,430.5 L659.9,430.6 L660.9,430.7 L661.9,430.8 L662.9,430.9 L663.9,431.0 L664.9,431.1 L665.9,431.2 L666.9,431.3 L667.9,431.4 L668.9,431.5 L669.9,431.6 L670.9,431.7 L671.9,431.7 L672.9,431.8 L673.9,431.9" fill="none" stroke="#ff0000" stroke-width="2.0" stroke-linejoin="round" stroke-linecap="round"/>
<path d="M381.9,459.4 L382.9,459.3 L383.9,459.2 L384.9,459.1 L385.9,459.0 L386.9,458.8 L387.9,458.7 L388.9,458.6 L389.9,458.5 L390.9,458.3 L391.9,458.2 L392.9,458.0 L393.9,457.9 L394.9,457.7 L395.9,457.6 L396.9,457.4 L397.9,457.3 L398.9,457.1 L399.9,456.9 L400.9,456.7 L401.9,456.5 L402.9,456.3 L403.9,456.1 L404.9,455.9 L405.9,455.7 L406.9,455.4 L407.9,455.2 L408.9,454.9 L409.9,454.7 L410.9,454.4 L411.9,454.1 L412.9,453.8 L413.9,453.5 L414.9,453.2 L415.9,452.9 L416.9,452.6 L417.9,452.2 L418.9,451.8 L419.9,451.4 L420.9,451.0 L421.9,450.6 L422.9,450.1 L423.9,449.7 L424.9,449.2 L425.9,448.6 L426.9,448.1 L427.9,447.5 L428.9,446.9 L429.9,446.2 L430.9,445.5 L431.9,444.8 L432.9,444.0 L433.9,443.2 L434.9,442.4 L435.9,441.4 L436.9,440.4 L437.9,439.4 L438.9,438.2 L439.9,437.0 L440.9,435.8 L441.9,434.4 L442.9,432.9 L443.9,431.3 L444.9,429.6 L445.9,427.8 L446.9,425.9 L447.9,423.8 L448.9,421.6 L449.9,419.2 L450.9,416.6 L451.9,413.9 L452.9,411.0 L453.9,407.9 L454.9,404.7 L455.9,401.2 L456.9,397.5 L457.9,393.6 L458.9,389.4 L459.9,385.1 L460.9,380.5 L461.9,375.7 L462.9,370.7 L463.9,365.5 L464.9,360.1 L465.9,354.6 L466.9,349.0 L467.9,343.3 L468.9,337.6 L469.9,332.0 L470.9,326.5 L471.9,321.2 L472.9,316.3 L473.9,311.7 L474.9,307.7 L475.9,304.3 L476.9,301.6 L477.9,299.7 L478.9,298.6 L479.9,298.3 L480.9,298.8 L481.9,300.0 L482.9,301.8 L483.9,304.3 L484.9,307.4 L485.9,310.9 L486.9,314.9 L487.9,319.2 L488.9,323.8 L489.9,328.5 L490.9,333.4 L491.9,338.4 L492.9,343.3 L493.9,348.3 L494.9,353.1 L495.9,357.9 L496.9,362.6 L497.9,367.1 L498.9,371.4 L499.9,375.6 L500.9,379.6 L501.9,383.5 L502.9,387.1 L503.9,390.6 L504.9,393.9 L505.9,397.0 L506.9,399.9 L507.9,402.7 L508.9,405.3 L509.9,407.7 L510.9,409.9 L511.9,412.1 L512.9,414.0 L513.9,415.9 L514.9,417.6 L515.9,419.2 L516.9,420.6 L517.9,422.0 L518.9,423.3 L519.9,424.4 L520.9,425.5 L521.9,426.5 L522.9,427.5 L523.9,428.3 L524.9,429.1 L525.9,429.9 L526.9,430.6 L527.9,431.2 L528.9,431.8 L529.9,432.4 L530.9,432.9 L531.9,433.4 L532.9,433.8 L533.9,434.2 L534.9,434.6 L535.9,435.0 L536.9,435.4 L537.9,435.7 L538.9,436.0 L539.9,436.3 L540.9,436.6 L541.9,436.8 L542.9,437.1 L543.9,437.3 L544.9,437.5 L545.9,437.7 L546.9,437.9 L547.9,438.1 L548.9,438.2 L549.9,438.4 L550.9,438.5 L551.9,438.7 L552.9,438.8 L553.9,438.9 L554.9,439.0 L555.9,439.1 L556.9,439.2 L557.9,439.3 L558.9,439.3 L559.9,439.4 L560.9,439.5 L561.9,439.5 L562.9,439.5 L563.9,439.5 L564.9,439.5 L565.9,439.5 L566.9,439.5 L567.9,439.5 L568.9,439.5 L569.9,439.4 L570.9,439.4 L571.9,439.3 L572.9,439.3 L573.9,439.2 L574.9,439.1 L575.9,439.0 L576.9,438.9 L577.9,438.7 L578.9,438.6 L579.9,438.5 L580.9,438.3 L581.9,438.2 L582.9,438.0 L583.9,437.9 L584.9,437.7 L585.9,437.6 L586.9,437.4 L587.9,437.3 L588.9,437.1 L589.9,437.0 L590.9,436.8 L591.9,436.7 L592.9,436.6 L593.9,436.5 L594.9,436.4 L595.9,436.3 L596.9,436.2 L597.9,436.1 L598.9,436.0 L599.9,435.9 L600.9,435.8 L601.9,435.8 L602.9,435.7 L603.9,435.6 L604.9,435.6 L605.9,435.5 L606.9,435.5 L607.9,435.4 L608.9,435.4 L609.9,435.4 L610.9,435.3 L611.9,435.3 L612.9,435.3 L613.9,435.3 L614.9,435.2 L615.9,435.2 L616.9,435.2 L617.9,435.2 L618.9,435.2 L619.9,435.2 L620.9,435.2 L621.9,435.1 L622.9,435.1 L623.9,435.1 L624.9,435.1 L625.9,435.1 L626.9,435.1 L627.9,435.1 L628.9,435.1 L629.9,435.1 L630.9,435.1 L631.9,435.1 L632.9,435.1 L633.9,435.1 L634.9,435.1 L635.9,435.1 L636.9,435.1 L637.9,435.1 L638.9,435.1 L639.9,435.1 L640.9,435.1 L641.9,435.1 L642.9,435.1 L643.9,435.1 L644.9,435.1 L645.9,435.1 L646.9,435.1 L647.9,435.1 L648.9,435.1 L649.9,435.1 L650.9,435.1 L651.9,435.1 L652.9,435.1 L653.9,435.1 L654.9,435.1 L655.9,435.1 L656.9,435.1 L657.9,435.1 L658.9,435.1 L659.9,435.2 L660.9,435.2 L661.9,435.2 L662.9,435.2 L663.9,435.2 L664.9,435.2 L665.9,435.2 L666.9,435.2 L667.9,435.2 L668.9,435.2 L669.9,435.2 L670.9,435.2 L671.9,435.2 L672.9,435.2 L673.9,435.2" fill="none" stroke="#1075ff" stroke-width="2.0" stroke-linejoin="round" stroke-linecap="round"/>
<path d="M381.9,463.4 L382.9,463.4 L383.9,463.4 L384.9,463.4 L385.9,463.4 L386.9,463.3 L387.9,463.3 L388.9,463.3 L389.9,463.3 L390.9,463.2 L391.9,463.2 L392.9,463.2 L393.9,463.2 L394.9,463.2 L395.9,463.1 L396.9,463.1 L397.9,463.1 L398.9,463.1 L399.9,463.0 L400.9,463.0 L401.9,463.0 L402.9,463.0 L403.9,462.9 L404.9,462.9 L405.9,462.9 L406.9,462.8 L407.9,462.8 L408.9,462.8 L409.9,462.7 L410.9,462.7 L411.9,462.7 L412.9,462.6 L413.9,462.6 L414.9,462.6 L415.9,462.5 L416.9,462.5 L417.9,462.5 L418.9,462.4 L419.9,462.4 L420.9,462.3 L421.9,462.3 L422.9,462.2 L423.9,462.2 L424.9,462.2 L425.9,462.1 L426.9,462.1 L427.9,462.0 L428.9,462.0 L429.9,461.9 L430.9,461.9 L431.9,461.8 L432.9,461.7 L433.9,461.7 L434.9,461.6 L435.9,461.5 L436.9,461.5 L437.9,461.4 L438.9,461.3 L439.9,461.3 L440.9,461.2 L441.9,461.1 L442.9,461.0 L443.9,460.9 L444.9,460.8 L445.9,460.7 L446.9,460.6 L447.9,460.5 L448.9,460.4 L449.9,460.3 L450.9,460.2 L451.9,460.1 L452.9,459.9 L453.9,459.8 L454.9,459.6 L455.9,459.5 L456.9,459.3 L457.9,459.2 L458.9,459.0 L459.9,458.8 L460.9,458.6 L461.9,458.4 L462.9,458.2 L463.9,457.9 L464.9,457.7 L465.9,457.4 L466.9,457.2 L467.9,456.9 L468.9,456.6 L469.9,456.3 L470.9,456.0 L471.9,455.7 L472.9,455.3 L473.9,455.0 L474.9,454.6 L475.9,454.2 L476.9,453.9 L477.9,453.5 L478.9,453.1 L479.9,452.7 L480.9,452.3 L481.9,451.9 L482.9,451.6 L483.9,451.2 L484.9,450.8 L485.9,450.4 L486.9,450.1 L487.9,449.7 L488.9,449.4 L489.9,449.0 L490.9,448.7 L491.9,448.4 L492.9,448.1 L493.9,447.8 L494.9,447.5 L495.9,447.2 L496.9,446.9 L497.9,446.6 L498.9,446.3 L499.9,446.1 L500.9,445.8 L501.9,445.6 L502.9,445.3 L503.9,445.1 L504.9,444.9 L505.9,444.6 L506.9,444.4 L507.9,444.1 L508.9,443.9 L509.9,443.7 L510.9,443.4 L511.9,443.2 L512.9,443.0 L513.9,442.7 L514.9,442.5 L515.9,442.3 L516.9,442.0 L517.9,441.8 L518.9,441.5 L519.9,441.2 L520.9,441.0 L521.9,440.7 L522.9,440.4 L523.9,440.1 L524.9,439.8 L525.9,439.5 L526.9,439.2 L527.9,438.8 L528.9,438.5 L529.9,438.1 L530.9,437.7 L531.9,437.3 L532.9,436.9 L533.9,436.5 L534.9,436.0 L535.9,435.5 L536.9,435.0 L537.9,434.5 L538.9,433.9 L539.9,433.3 L540.9,432.6 L541.9,431.9 L542.9,431.2 L543.9,430.4 L544.9,429.6 L545.9,428.7 L546.9,427.7 L547.9,426.7 L548.9,425.6 L549.9,424.4 L550.9,423.2 L551.9,421.8 L552.9,420.4 L553.9,418.9 L554.9,417.2 L555.9,415.5 L556.9,413.6 L557.9,411.6 L558.9,409.4 L559.9,407.2 L560.9,404.8 L561.9,402.2 L562.9,399.5 L563.9,396.6 L564.9,393.6 L565.9,390.5 L566.9,387.2 L567.9,383.7 L568.9,380.2 L569.9,376.5 L570.9,372.7 L571.9,368.9 L572.9,365.1 L573.9,361.3 L574.9,357.6 L575.9,354.0 L576.9,350.7 L577.9,347.6 L578.9,344.9 L579.9,342.6 L580.9,340.7 L581.9,339.5 L582.9,338.8 L583.9,338.6 L584.9,339.1 L585.9,340.1 L586.9,341.6 L587.9,343.6 L588.9,346.0 L589.9,348.8 L590.9,351.8 L591.9,355.1 L592.9,358.5 L593.9,362.0 L594.9,365.5 L595.9,369.0 L596.9,372.5 L597.9,375.9 L598.9,379.2 L599.9,382.4 L600.9,385.5 L601.9,388.5 L602.9,391.3 L603.9,394.0 L604.9,396.6 L605.9,399.0 L606.9,401.2 L607.9,403.4 L608.9,405.4 L609.9,407.2 L610.9,409.0 L611.9,410.6 L612.9,412.1 L613.9,413.5 L614.9,414.8 L615.9,416.1 L616.9,417.2 L617.9,418.2 L618.9,419.2 L619.9,420.1 L620.9,420.9 L621.9,421.7 L622.9,422.4 L623.9,423.1 L624.9,423.7 L625.9,424.2 L626.9,424.8 L627.9,425.3 L628.9,425.7 L629.9,426.2 L630.9,426.6 L631.9,426.9 L632.9,427.3 L633.9,427.6 L634.9,427.9 L635.9,428.2 L636.9,428.5 L637.9,428.7 L638.9,429.0 L639.9,429.2 L640.9,429.4 L641.9,429.7 L642.9,429.9 L643.9,430.1 L644.9,430.2 L645.9,430.4 L646.9,430.6 L647.9,430.7 L648.9,430.9 L649.9,431.0 L650.9,431.2 L651.9,431.3 L652.9,431.4 L653.9,431.5 L654.9,431.7 L655.9,431.8 L656.9,431.9 L657.9,432.0 L658.9,432.1 L659.9,432.2 L660.9,432.3 L661.9,432.4 L662.9,432.4 L663.9,432.5 L664.9,432.6 L665.9,432.7 L666.9,432.8 L667.9,432.8 L668.9,432.9 L669.9,433.0 L670.9,433.0 L671.9,433.1 L672.9,433.2 L673.9,433.2" fill="none" stroke="#ff7f0a" stroke-width="2.0" stroke-linejoin="round" stroke-linecap="round"/>
<line x1="485.1" y1="374.7" x2="578.5" y2="374.7" stroke="#6a6a6a" stroke-width="1"/><path d="M479.8,374.7 L485.6,372.9 L485.6,376.5 Z" fill="#111"/><path d="M583.8,374.7 L578.0,372.9 L578.0,376.5 Z" fill="#111"/>
<rect x="380.85" y="268.9" width="294.15" height="218.00" fill="none" stroke="#000" stroke-width="1.95"/>
<line x1="398.15" y1="486.9" x2="398.15" y2="491.80" stroke="#000" stroke-width="1.7"/>
<line x1="432.76" y1="486.9" x2="432.76" y2="491.80" stroke="#000" stroke-width="1.7"/>
<line x1="467.36" y1="486.9" x2="467.36" y2="491.80" stroke="#000" stroke-width="1.7"/>
<line x1="501.97" y1="486.9" x2="501.97" y2="491.80" stroke="#000" stroke-width="1.7"/>
<line x1="536.58" y1="486.9" x2="536.58" y2="491.80" stroke="#000" stroke-width="1.7"/>
<line x1="571.18" y1="486.9" x2="571.18" y2="491.80" stroke="#000" stroke-width="1.7"/>
<line x1="605.79" y1="486.9" x2="605.79" y2="491.80" stroke="#000" stroke-width="1.7"/>
<line x1="640.39" y1="486.9" x2="640.39" y2="491.80" stroke="#000" stroke-width="1.7"/>
<line x1="675.00" y1="486.9" x2="675.00" y2="491.80" stroke="#000" stroke-width="1.7"/>
<line x1="380.85" y1="486.9" x2="380.85" y2="489.80" stroke="#000" stroke-width="1.5"/>
<line x1="415.46" y1="486.9" x2="415.46" y2="489.80" stroke="#000" stroke-width="1.5"/>
<line x1="450.06" y1="486.9" x2="450.06" y2="489.80" stroke="#000" stroke-width="1.5"/>
<line x1="484.67" y1="486.9" x2="484.67" y2="489.80" stroke="#000" stroke-width="1.5"/>
<line x1="519.27" y1="486.9" x2="519.27" y2="489.80" stroke="#000" stroke-width="1.5"/>
<line x1="553.88" y1="486.9" x2="553.88" y2="489.80" stroke="#000" stroke-width="1.5"/>
<line x1="588.49" y1="486.9" x2="588.49" y2="489.80" stroke="#000" stroke-width="1.5"/>
<line x1="623.09" y1="486.9" x2="623.09" y2="489.80" stroke="#000" stroke-width="1.5"/>
<line x1="657.70" y1="486.9" x2="657.70" y2="489.80" stroke="#000" stroke-width="1.5"/>
<text x="397.85" y="503.90" font-size="12.4" text-anchor="middle">364</text>
<text x="432.46" y="503.90" font-size="12.4" text-anchor="middle">366</text>
<text x="467.06" y="503.90" font-size="12.4" text-anchor="middle">368</text>
<text x="501.67" y="503.90" font-size="12.4" text-anchor="middle">370</text>
<text x="536.28" y="503.90" font-size="12.4" text-anchor="middle">372</text>
<text x="570.88" y="503.90" font-size="12.4" text-anchor="middle">374</text>
<text x="605.49" y="503.90" font-size="12.4" text-anchor="middle">376</text>
<text x="640.09" y="503.90" font-size="12.4" text-anchor="middle">378</text>
<text x="674.70" y="503.90" font-size="12.4" text-anchor="middle">380</text>
<line x1="100.1" y1="76.3" x2="133.6" y2="76.3" stroke="#555" stroke-width="1"/>
<line x1="244.2" y1="51.5" x2="285" y2="51.5" stroke="#555" stroke-width="1"/>
<line x1="96.2" y1="316.3" x2="140.8" y2="316.3" stroke="#555" stroke-width="1"/>
<line x1="223.4" y1="346.5" x2="270" y2="346.5" stroke="#555" stroke-width="1"/>
<text x="91.9" y="72.3" font-size="11.0" text-anchor="start">162.28 eV</text>
<text x="106.2" y="88.5" font-size="11.0" text-anchor="start">C-S</text>
<text x="241.5" y="45.6" font-size="11.0" text-anchor="start">164.03 eV</text>
<text x="254.9" y="66.4" font-size="11.0" text-anchor="start">S-S</text>
<text x="95.6" y="308.1" font-size="11.25" text-anchor="start">162.69 eV</text>
<text x="105.1" y="329.7" font-size="11.0" text-anchor="start">C-S</text>
<text x="223.1" y="338.4" font-size="11.25" text-anchor="start">164.32 eV</text>
<text x="235.3" y="359.4" font-size="11.0" text-anchor="start">S-S</text>
<text x="502.3" y="29.7" font-size="10.25">Ag3d<tspan font-size="8.9" dy="3.9">5/2</tspan><tspan dy="-3.9">: 367.29 eV</tspan></text>
<text x="579.4" y="58.2" font-size="10.25">Ag3d<tspan font-size="8.9" dy="3.9">3/2</tspan><tspan dy="-3.9">: 373.29 eV</tspan></text>
<text x="463.3" y="288.1" font-size="10.25">Ag3d<tspan font-size="8.9" dy="3.9">5/2</tspan><tspan dy="-3.9">: 368.72 eV</tspan></text>
<text x="566.7" y="328.1" font-size="10.25">Ag3d<tspan font-size="8.9" dy="3.9">3/2</tspan><tspan dy="-3.9">: 374.72 eV</tspan></text>
<text x="529" y="106.6" font-size="10.5" text-anchor="start">6eV</text>
<text x="521.3" y="363.9" font-size="10.5" text-anchor="start">6eV</text>
<text x="133.8" y="251.9" font-size="12.2">Binding Energy (eV)</text>
<text x="474.5" y="257.3" font-size="12.2">Binding Energy (eV)</text>
<text x="130.6" y="525.1" font-size="12.2">Binding Energy (eV)</text>
<text x="474.5" y="524.4" font-size="12.2">Binding Energy (eV)</text>
<text x="-0.3" y="26.6" font-size="33">a</text>
<text x="345.0" y="26.6" font-size="31">b</text>
<text x="-0.3" y="294.9" font-size="33">c</text>
<text x="344.7" y="294.8" font-size="31">d</text>
<rect x="50.1" y="17" width="31.50" height="19.70" fill="#000"/>
<rect x="46.5" y="14.5" width="32.30" height="19.50" fill="#fff" stroke="#777" stroke-width="1"/>
<text x="51.4" y="27.7" font-size="12">S 2p</text>
<rect x="398.3" y="24.2" width="38.40" height="18.60" fill="#000"/>
<rect x="395.3" y="21.5" width="38.00" height="17.50" fill="#fff" stroke="#777" stroke-width="1"/>
<text x="399.2" y="34.1" font-size="12">Ag 3d</text>
<rect x="47.2" y="282" width="32.00" height="18.90" fill="#000"/>
<rect x="44.6" y="278.8" width="32.00" height="19.10" fill="#fff" stroke="#777" stroke-width="1"/>
<text x="49.3" y="292.6" font-size="12">S 2p</text>
<rect x="396.8" y="293" width="38.10" height="17.80" fill="#000"/>
<rect x="393.7" y="289.8" width="37.70" height="18.40" fill="#fff" stroke="#777" stroke-width="1"/>
<text x="397.3" y="302.9" font-size="12">Ag 3d</text>
</svg>
</body></html>
